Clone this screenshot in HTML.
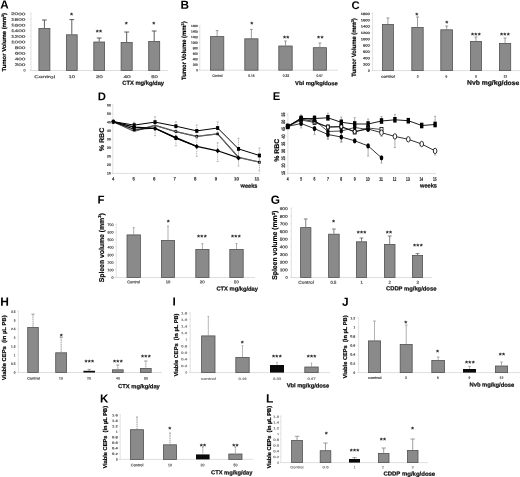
<!DOCTYPE html>
<html lang="en">
<head>
<meta charset="utf-8">
<title>Figure</title>
<style>
html,body{margin:0;padding:0;background:#fff;}
body{width:520px;height:477px;overflow:hidden;font-family:"Liberation Sans",Arial,sans-serif;}
svg{display:block;will-change:transform;}
</style>
</head>
<body>
<svg width="520" height="477" viewBox="0 0 520 477" font-family="'Liberation Sans', Arial, sans-serif" text-rendering="geometricPrecision">
<rect width="520" height="477" fill="#fff"/>
<line x1="31.00" y1="12.60" x2="31.00" y2="70.50" stroke="#d6d6d6" stroke-width="0.7"/>
<line x1="30.00" y1="70.50" x2="168.00" y2="70.50" stroke="#d6d6d6" stroke-width="0.8"/>
<line x1="29.80" y1="13.60" x2="31.00" y2="13.60" stroke="#d6d6d6" stroke-width="0.6"/>
<text transform="translate(25.50,15.18) rotate(0.4) scale(0.25)" font-size="14.80" text-anchor="end" stroke="#5a5a5a" stroke-width="0.88" fill="#5a5a5a" textLength="58.00" lengthAdjust="spacingAndGlyphs">2000</text>
<line x1="29.80" y1="19.24" x2="31.00" y2="19.24" stroke="#d6d6d6" stroke-width="0.6"/>
<text transform="translate(25.50,20.82) rotate(0.4) scale(0.25)" font-size="14.80" text-anchor="end" stroke="#5a5a5a" stroke-width="0.88" fill="#5a5a5a" textLength="58.00" lengthAdjust="spacingAndGlyphs">1800</text>
<line x1="29.80" y1="24.88" x2="31.00" y2="24.88" stroke="#d6d6d6" stroke-width="0.6"/>
<text transform="translate(25.50,26.46) rotate(0.4) scale(0.25)" font-size="14.80" text-anchor="end" stroke="#5a5a5a" stroke-width="0.88" fill="#5a5a5a" textLength="58.00" lengthAdjust="spacingAndGlyphs">1600</text>
<line x1="29.80" y1="30.52" x2="31.00" y2="30.52" stroke="#d6d6d6" stroke-width="0.6"/>
<text transform="translate(25.50,32.10) rotate(0.4) scale(0.25)" font-size="14.80" text-anchor="end" stroke="#5a5a5a" stroke-width="0.88" fill="#5a5a5a" textLength="58.00" lengthAdjust="spacingAndGlyphs">1400</text>
<line x1="29.80" y1="36.16" x2="31.00" y2="36.16" stroke="#d6d6d6" stroke-width="0.6"/>
<text transform="translate(25.50,37.74) rotate(0.4) scale(0.25)" font-size="14.80" text-anchor="end" stroke="#5a5a5a" stroke-width="0.88" fill="#5a5a5a" textLength="58.00" lengthAdjust="spacingAndGlyphs">1200</text>
<line x1="29.80" y1="41.80" x2="31.00" y2="41.80" stroke="#d6d6d6" stroke-width="0.6"/>
<text transform="translate(25.50,43.38) rotate(0.4) scale(0.25)" font-size="14.80" text-anchor="end" stroke="#5a5a5a" stroke-width="0.88" fill="#5a5a5a" textLength="58.00" lengthAdjust="spacingAndGlyphs">1000</text>
<line x1="29.80" y1="47.44" x2="31.00" y2="47.44" stroke="#d6d6d6" stroke-width="0.6"/>
<text transform="translate(25.50,49.02) rotate(0.4) scale(0.25)" font-size="14.80" text-anchor="end" stroke="#5a5a5a" stroke-width="0.88" fill="#5a5a5a" textLength="43.50" lengthAdjust="spacingAndGlyphs">800</text>
<line x1="29.80" y1="53.08" x2="31.00" y2="53.08" stroke="#d6d6d6" stroke-width="0.6"/>
<text transform="translate(25.50,54.66) rotate(0.4) scale(0.25)" font-size="14.80" text-anchor="end" stroke="#5a5a5a" stroke-width="0.88" fill="#5a5a5a" textLength="43.50" lengthAdjust="spacingAndGlyphs">600</text>
<line x1="29.80" y1="58.72" x2="31.00" y2="58.72" stroke="#d6d6d6" stroke-width="0.6"/>
<text transform="translate(25.50,60.30) rotate(0.4) scale(0.25)" font-size="14.80" text-anchor="end" stroke="#5a5a5a" stroke-width="0.88" fill="#5a5a5a" textLength="43.50" lengthAdjust="spacingAndGlyphs">400</text>
<line x1="29.80" y1="64.36" x2="31.00" y2="64.36" stroke="#d6d6d6" stroke-width="0.6"/>
<text transform="translate(25.50,65.94) rotate(0.4) scale(0.25)" font-size="14.80" text-anchor="end" stroke="#5a5a5a" stroke-width="0.88" fill="#5a5a5a" textLength="43.50" lengthAdjust="spacingAndGlyphs">200</text>
<line x1="29.80" y1="70.00" x2="31.00" y2="70.00" stroke="#d6d6d6" stroke-width="0.6"/>
<text transform="translate(25.50,71.58) rotate(0.4) scale(0.25)" font-size="14.80" text-anchor="end" stroke="#5a5a5a" stroke-width="0.88" fill="#5a5a5a">0</text>
<line x1="44.40" y1="20.00" x2="44.40" y2="28.00" stroke="#4c4c4c" stroke-width="0.9"/>
<line x1="42.00" y1="20.00" x2="46.80" y2="20.00" stroke="#4c4c4c" stroke-width="0.9"/>
<rect x="38.90" y="28.40" width="11.00" height="42.10" fill="#8a8a8a" stroke="#525252" stroke-width="0.8"/>
<line x1="71.80" y1="19.60" x2="71.80" y2="34.40" stroke="#4c4c4c" stroke-width="0.9"/>
<line x1="69.40" y1="19.60" x2="74.20" y2="19.60" stroke="#4c4c4c" stroke-width="0.9"/>
<rect x="66.40" y="34.80" width="10.80" height="35.70" fill="#8a8a8a" stroke="#525252" stroke-width="0.8"/>
<line x1="99.20" y1="38.00" x2="99.20" y2="41.60" stroke="#4c4c4c" stroke-width="0.9"/>
<line x1="96.80" y1="38.00" x2="101.60" y2="38.00" stroke="#4c4c4c" stroke-width="0.9"/>
<rect x="93.80" y="42.00" width="10.80" height="28.50" fill="#8a8a8a" stroke="#525252" stroke-width="0.8"/>
<line x1="126.65" y1="32.00" x2="126.65" y2="42.00" stroke="#4c4c4c" stroke-width="0.9"/>
<line x1="124.25" y1="32.00" x2="129.05" y2="32.00" stroke="#4c4c4c" stroke-width="0.9"/>
<rect x="121.10" y="42.40" width="11.10" height="28.10" fill="#8a8a8a" stroke="#525252" stroke-width="0.8"/>
<line x1="154.20" y1="31.00" x2="154.20" y2="41.00" stroke="#4c4c4c" stroke-width="0.9"/>
<line x1="151.80" y1="31.00" x2="156.60" y2="31.00" stroke="#4c4c4c" stroke-width="0.9"/>
<rect x="148.70" y="41.40" width="11.00" height="29.10" fill="#8a8a8a" stroke="#525252" stroke-width="0.8"/>
<text x="71.60" y="17.50" font-size="7.8" font-weight="bold" text-anchor="middle" fill="#111" letter-spacing="0.25">*</text>
<text x="99.00" y="35.30" font-size="7.8" font-weight="bold" text-anchor="middle" fill="#111" letter-spacing="0.25">**</text>
<text x="126.40" y="27.30" font-size="7.8" font-weight="bold" text-anchor="middle" fill="#111" letter-spacing="0.25">*</text>
<text x="154.00" y="27.30" font-size="7.8" font-weight="bold" text-anchor="middle" fill="#111" letter-spacing="0.25">*</text>
<text transform="translate(44.70,78.10) rotate(0.4) scale(0.25)" font-size="15.60" text-anchor="middle" stroke="#5a5a5a" stroke-width="0.88" fill="#5a5a5a" textLength="83.60" lengthAdjust="spacingAndGlyphs">Control</text>
<text transform="translate(71.80,78.10) rotate(0.4) scale(0.25)" font-size="15.60" text-anchor="middle" stroke="#5a5a5a" stroke-width="0.88" fill="#5a5a5a" textLength="26.40" lengthAdjust="spacingAndGlyphs">10</text>
<text transform="translate(99.30,78.10) rotate(0.4) scale(0.25)" font-size="15.60" text-anchor="middle" stroke="#5a5a5a" stroke-width="0.88" fill="#5a5a5a" textLength="28.00" lengthAdjust="spacingAndGlyphs">20</text>
<text transform="translate(127.10,78.10) rotate(0.4) scale(0.25)" font-size="15.60" text-anchor="middle" stroke="#5a5a5a" stroke-width="0.88" fill="#5a5a5a" textLength="29.20" lengthAdjust="spacingAndGlyphs">40</text>
<text transform="translate(154.50,78.10) rotate(0.4) scale(0.25)" font-size="15.60" text-anchor="middle" stroke="#5a5a5a" stroke-width="0.88" fill="#5a5a5a" textLength="26.40" lengthAdjust="spacingAndGlyphs">50</text>
<text transform="translate(122.20,84.69) rotate(0.4) scale(0.25)" font-size="23.20" text-anchor="start" font-weight="bold" stroke="#111" stroke-width="0.88" fill="#111" textLength="167.60" lengthAdjust="spacingAndGlyphs">CTX mg/kg/day</text>
<text transform="translate(0.15,8.40) rotate(0.4) scale(0.25)" font-size="46.71" font-weight="bold" fill="#000">A</text>
<text transform="translate(6.19,71.40) rotate(-90)" font-size="5.8" font-weight="bold" fill="#000" stroke="#000" stroke-width="0.18" textLength="58.50" lengthAdjust="spacingAndGlyphs">Tumor Volume (mm<tspan font-size="3.60" dy="-2.20">3</tspan><tspan dy="2.20">)</tspan></text>
<line x1="199.80" y1="24.80" x2="199.80" y2="70.20" stroke="#d6d6d6" stroke-width="0.7"/>
<line x1="198.80" y1="70.20" x2="338.00" y2="70.20" stroke="#d6d6d6" stroke-width="0.8"/>
<line x1="198.60" y1="25.80" x2="199.80" y2="25.80" stroke="#d6d6d6" stroke-width="0.6"/>
<text transform="translate(197.80,27.13) rotate(0.4) scale(0.25)" font-size="12.00" text-anchor="end" stroke="#555" stroke-width="0.88" fill="#555" textLength="27.60" lengthAdjust="spacingAndGlyphs">1600</text>
<line x1="198.60" y1="31.31" x2="199.80" y2="31.31" stroke="#d6d6d6" stroke-width="0.6"/>
<text transform="translate(197.80,32.64) rotate(0.4) scale(0.25)" font-size="12.00" text-anchor="end" stroke="#555" stroke-width="0.88" fill="#555" textLength="27.60" lengthAdjust="spacingAndGlyphs">1400</text>
<line x1="198.60" y1="36.83" x2="199.80" y2="36.83" stroke="#d6d6d6" stroke-width="0.6"/>
<text transform="translate(197.80,38.16) rotate(0.4) scale(0.25)" font-size="12.00" text-anchor="end" stroke="#555" stroke-width="0.88" fill="#555" textLength="27.60" lengthAdjust="spacingAndGlyphs">1200</text>
<line x1="198.60" y1="42.34" x2="199.80" y2="42.34" stroke="#d6d6d6" stroke-width="0.6"/>
<text transform="translate(197.80,43.67) rotate(0.4) scale(0.25)" font-size="12.00" text-anchor="end" stroke="#555" stroke-width="0.88" fill="#555" textLength="27.60" lengthAdjust="spacingAndGlyphs">1000</text>
<line x1="198.60" y1="47.85" x2="199.80" y2="47.85" stroke="#d6d6d6" stroke-width="0.6"/>
<text transform="translate(197.80,49.18) rotate(0.4) scale(0.25)" font-size="12.00" text-anchor="end" stroke="#555" stroke-width="0.88" fill="#555" textLength="20.70" lengthAdjust="spacingAndGlyphs">800</text>
<line x1="198.60" y1="53.36" x2="199.80" y2="53.36" stroke="#d6d6d6" stroke-width="0.6"/>
<text transform="translate(197.80,54.69) rotate(0.4) scale(0.25)" font-size="12.00" text-anchor="end" stroke="#555" stroke-width="0.88" fill="#555" textLength="20.70" lengthAdjust="spacingAndGlyphs">600</text>
<line x1="198.60" y1="58.88" x2="199.80" y2="58.88" stroke="#d6d6d6" stroke-width="0.6"/>
<text transform="translate(197.80,60.20) rotate(0.4) scale(0.25)" font-size="12.00" text-anchor="end" stroke="#555" stroke-width="0.88" fill="#555" textLength="20.70" lengthAdjust="spacingAndGlyphs">400</text>
<line x1="198.60" y1="64.39" x2="199.80" y2="64.39" stroke="#d6d6d6" stroke-width="0.6"/>
<text transform="translate(197.80,65.72) rotate(0.4) scale(0.25)" font-size="12.00" text-anchor="end" stroke="#555" stroke-width="0.88" fill="#555" textLength="20.70" lengthAdjust="spacingAndGlyphs">200</text>
<line x1="198.60" y1="69.90" x2="199.80" y2="69.90" stroke="#d6d6d6" stroke-width="0.6"/>
<text transform="translate(197.80,71.23) rotate(0.4) scale(0.25)" font-size="12.00" text-anchor="end" stroke="#555" stroke-width="0.88" fill="#555">0</text>
<line x1="217.15" y1="30.60" x2="217.15" y2="36.20" stroke="#6a6a6a" stroke-width="0.65"/>
<line x1="215.75" y1="30.60" x2="218.55" y2="30.60" stroke="#6a6a6a" stroke-width="0.65"/>
<rect x="210.50" y="36.60" width="13.30" height="33.60" fill="#8a8a8a" stroke="#525252" stroke-width="0.8"/>
<line x1="251.40" y1="29.40" x2="251.40" y2="38.40" stroke="#6a6a6a" stroke-width="0.65"/>
<line x1="250.00" y1="29.40" x2="252.80" y2="29.40" stroke="#6a6a6a" stroke-width="0.65"/>
<rect x="244.80" y="38.80" width="13.20" height="31.40" fill="#8a8a8a" stroke="#525252" stroke-width="0.8"/>
<line x1="285.50" y1="41.00" x2="285.50" y2="45.60" stroke="#6a6a6a" stroke-width="0.65"/>
<line x1="284.10" y1="41.00" x2="286.90" y2="41.00" stroke="#6a6a6a" stroke-width="0.65"/>
<rect x="278.80" y="46.00" width="13.40" height="24.20" fill="#8a8a8a" stroke="#525252" stroke-width="0.8"/>
<line x1="319.90" y1="43.00" x2="319.90" y2="47.30" stroke="#6a6a6a" stroke-width="0.65"/>
<line x1="318.50" y1="43.00" x2="321.30" y2="43.00" stroke="#6a6a6a" stroke-width="0.65"/>
<rect x="313.30" y="47.70" width="13.20" height="22.50" fill="#8a8a8a" stroke="#525252" stroke-width="0.8"/>
<text x="252.00" y="27.00" font-size="7.8" font-weight="bold" text-anchor="middle" fill="#111" letter-spacing="0.25">*</text>
<text x="286.20" y="41.10" font-size="7.8" font-weight="bold" text-anchor="middle" fill="#111" letter-spacing="0.25">**</text>
<text x="320.40" y="41.10" font-size="7.8" font-weight="bold" text-anchor="middle" fill="#111" letter-spacing="0.25">**</text>
<text transform="translate(217.40,76.79) rotate(0.4) scale(0.25)" font-size="13.20" text-anchor="middle" stroke="#555" stroke-width="0.88" fill="#555" textLength="41.20" lengthAdjust="spacingAndGlyphs">Control</text>
<text transform="translate(251.40,76.79) rotate(0.4) scale(0.25)" font-size="13.20" text-anchor="middle" stroke="#555" stroke-width="0.88" fill="#555" textLength="25.20" lengthAdjust="spacingAndGlyphs">0.16</text>
<text transform="translate(286.00,76.79) rotate(0.4) scale(0.25)" font-size="13.20" text-anchor="middle" stroke="#555" stroke-width="0.88" fill="#555" textLength="25.20" lengthAdjust="spacingAndGlyphs">0.33</text>
<text transform="translate(319.60,76.79) rotate(0.4) scale(0.25)" font-size="13.20" text-anchor="middle" stroke="#555" stroke-width="0.88" fill="#555" textLength="25.20" lengthAdjust="spacingAndGlyphs">0.67</text>
<text transform="translate(295.10,84.92) rotate(0.4) scale(0.25)" font-size="22.40" text-anchor="start" font-weight="bold" stroke="#111" stroke-width="0.88" fill="#111" textLength="170.80" lengthAdjust="spacingAndGlyphs">Vbl mg/kg/dose</text>
<text transform="translate(180.50,8.75) rotate(0.4) scale(0.25)" font-size="46.98" font-weight="bold" fill="#000">B</text>
<text transform="translate(186.13,80.00) rotate(-90)" font-size="6.2" font-weight="bold" fill="#000" stroke="#000" stroke-width="0.18" textLength="58.60" lengthAdjust="spacingAndGlyphs">Tumor Volume (mm<tspan font-size="3.84" dy="-2.36">3</tspan><tspan dy="2.36">)</tspan></text>
<line x1="372.60" y1="12.60" x2="372.60" y2="70.60" stroke="#d6d6d6" stroke-width="0.7"/>
<line x1="371.60" y1="70.60" x2="520.00" y2="70.60" stroke="#d6d6d6" stroke-width="0.8"/>
<line x1="371.40" y1="13.60" x2="372.60" y2="13.60" stroke="#d6d6d6" stroke-width="0.6"/>
<text transform="translate(369.80,15.00) rotate(0.4) scale(0.25)" font-size="12.80" text-anchor="end" stroke="#4a4a4a" stroke-width="0.88" fill="#4a4a4a" textLength="36.40" lengthAdjust="spacingAndGlyphs">1800</text>
<line x1="371.40" y1="19.91" x2="372.60" y2="19.91" stroke="#d6d6d6" stroke-width="0.6"/>
<text transform="translate(369.80,21.31) rotate(0.4) scale(0.25)" font-size="12.80" text-anchor="end" stroke="#4a4a4a" stroke-width="0.88" fill="#4a4a4a" textLength="36.40" lengthAdjust="spacingAndGlyphs">1600</text>
<line x1="371.40" y1="26.22" x2="372.60" y2="26.22" stroke="#d6d6d6" stroke-width="0.6"/>
<text transform="translate(369.80,27.62) rotate(0.4) scale(0.25)" font-size="12.80" text-anchor="end" stroke="#4a4a4a" stroke-width="0.88" fill="#4a4a4a" textLength="36.40" lengthAdjust="spacingAndGlyphs">1400</text>
<line x1="371.40" y1="32.53" x2="372.60" y2="32.53" stroke="#d6d6d6" stroke-width="0.6"/>
<text transform="translate(369.80,33.94) rotate(0.4) scale(0.25)" font-size="12.80" text-anchor="end" stroke="#4a4a4a" stroke-width="0.88" fill="#4a4a4a" textLength="36.40" lengthAdjust="spacingAndGlyphs">1200</text>
<line x1="371.40" y1="38.84" x2="372.60" y2="38.84" stroke="#d6d6d6" stroke-width="0.6"/>
<text transform="translate(369.80,40.25) rotate(0.4) scale(0.25)" font-size="12.80" text-anchor="end" stroke="#4a4a4a" stroke-width="0.88" fill="#4a4a4a" textLength="36.40" lengthAdjust="spacingAndGlyphs">1000</text>
<line x1="371.40" y1="45.16" x2="372.60" y2="45.16" stroke="#d6d6d6" stroke-width="0.6"/>
<text transform="translate(369.80,46.56) rotate(0.4) scale(0.25)" font-size="12.80" text-anchor="end" stroke="#4a4a4a" stroke-width="0.88" fill="#4a4a4a" textLength="27.30" lengthAdjust="spacingAndGlyphs">800</text>
<line x1="371.40" y1="51.47" x2="372.60" y2="51.47" stroke="#d6d6d6" stroke-width="0.6"/>
<text transform="translate(369.80,52.87) rotate(0.4) scale(0.25)" font-size="12.80" text-anchor="end" stroke="#4a4a4a" stroke-width="0.88" fill="#4a4a4a" textLength="27.30" lengthAdjust="spacingAndGlyphs">600</text>
<line x1="371.40" y1="57.78" x2="372.60" y2="57.78" stroke="#d6d6d6" stroke-width="0.6"/>
<text transform="translate(369.80,59.18) rotate(0.4) scale(0.25)" font-size="12.80" text-anchor="end" stroke="#4a4a4a" stroke-width="0.88" fill="#4a4a4a" textLength="27.30" lengthAdjust="spacingAndGlyphs">400</text>
<line x1="371.40" y1="64.09" x2="372.60" y2="64.09" stroke="#d6d6d6" stroke-width="0.6"/>
<text transform="translate(369.80,65.49) rotate(0.4) scale(0.25)" font-size="12.80" text-anchor="end" stroke="#4a4a4a" stroke-width="0.88" fill="#4a4a4a" textLength="27.30" lengthAdjust="spacingAndGlyphs">200</text>
<line x1="371.40" y1="70.40" x2="372.60" y2="70.40" stroke="#d6d6d6" stroke-width="0.6"/>
<text transform="translate(369.80,71.80) rotate(0.4) scale(0.25)" font-size="12.80" text-anchor="end" stroke="#4a4a4a" stroke-width="0.88" fill="#4a4a4a">0</text>
<line x1="387.90" y1="18.00" x2="387.90" y2="24.00" stroke="#6a6a6a" stroke-width="0.65"/>
<line x1="386.40" y1="18.00" x2="389.40" y2="18.00" stroke="#6a6a6a" stroke-width="0.65"/>
<rect x="382.40" y="24.40" width="11.00" height="46.20" fill="#8a8a8a" stroke="#525252" stroke-width="0.8"/>
<line x1="417.50" y1="17.00" x2="417.50" y2="27.00" stroke="#6a6a6a" stroke-width="0.65"/>
<line x1="416.00" y1="17.00" x2="419.00" y2="17.00" stroke="#6a6a6a" stroke-width="0.65"/>
<rect x="411.80" y="27.40" width="11.40" height="43.20" fill="#8a8a8a" stroke="#525252" stroke-width="0.8"/>
<line x1="446.70" y1="26.00" x2="446.70" y2="29.40" stroke="#6a6a6a" stroke-width="0.65"/>
<line x1="445.20" y1="26.00" x2="448.20" y2="26.00" stroke="#6a6a6a" stroke-width="0.65"/>
<rect x="440.80" y="29.80" width="11.80" height="40.80" fill="#8a8a8a" stroke="#525252" stroke-width="0.8"/>
<line x1="475.95" y1="37.00" x2="475.95" y2="41.00" stroke="#6a6a6a" stroke-width="0.65"/>
<line x1="474.45" y1="37.00" x2="477.45" y2="37.00" stroke="#6a6a6a" stroke-width="0.65"/>
<rect x="470.40" y="41.40" width="11.10" height="29.20" fill="#8a8a8a" stroke="#525252" stroke-width="0.8"/>
<line x1="505.05" y1="38.00" x2="505.05" y2="43.00" stroke="#6a6a6a" stroke-width="0.65"/>
<line x1="503.55" y1="38.00" x2="506.55" y2="38.00" stroke="#6a6a6a" stroke-width="0.65"/>
<rect x="499.40" y="43.40" width="11.30" height="27.20" fill="#8a8a8a" stroke="#525252" stroke-width="0.8"/>
<text x="417.00" y="17.90" font-size="7.8" font-weight="bold" text-anchor="middle" fill="#111" letter-spacing="0.25">*</text>
<text x="447.00" y="26.30" font-size="7.8" font-weight="bold" text-anchor="middle" fill="#111" letter-spacing="0.25">*</text>
<text x="476.00" y="37.50" font-size="7.8" font-weight="bold" text-anchor="middle" fill="#111" letter-spacing="0.25">***</text>
<text x="505.00" y="37.50" font-size="7.8" font-weight="bold" text-anchor="middle" fill="#111" letter-spacing="0.25">***</text>
<text transform="translate(388.00,77.45) rotate(0.4) scale(0.25)" font-size="12.80" text-anchor="middle" stroke="#4a4a4a" stroke-width="0.88" fill="#4a4a4a" textLength="54.40" lengthAdjust="spacingAndGlyphs">control</text>
<text transform="translate(417.60,77.45) rotate(0.4) scale(0.25)" font-size="12.80" text-anchor="middle" stroke="#4a4a4a" stroke-width="0.88" fill="#4a4a4a">3</text>
<text transform="translate(446.40,77.45) rotate(0.4) scale(0.25)" font-size="12.80" text-anchor="middle" stroke="#4a4a4a" stroke-width="0.88" fill="#4a4a4a">6</text>
<text transform="translate(476.00,77.45) rotate(0.4) scale(0.25)" font-size="12.80" text-anchor="middle" stroke="#4a4a4a" stroke-width="0.88" fill="#4a4a4a">9</text>
<text transform="translate(505.30,77.45) rotate(0.4) scale(0.25)" font-size="12.80" text-anchor="middle" stroke="#4a4a4a" stroke-width="0.88" fill="#4a4a4a" textLength="15.20" lengthAdjust="spacingAndGlyphs">12</text>
<text transform="translate(467.00,84.64) rotate(0.4) scale(0.25)" font-size="26.00" text-anchor="start" font-weight="bold" stroke="#111" stroke-width="0.88" fill="#111" textLength="208.80" lengthAdjust="spacingAndGlyphs">Nvb mg/kg/dose</text>
<text transform="translate(351.60,8.95) rotate(0.4) scale(0.25)" font-size="44.83" font-weight="bold" fill="#000">C</text>
<text transform="translate(356.43,76.70) rotate(-90)" font-size="6.2" font-weight="bold" fill="#000" stroke="#000" stroke-width="0.18" textLength="58.50" lengthAdjust="spacingAndGlyphs">Tumor Volume (mm<tspan font-size="3.84" dy="-2.36">3</tspan><tspan dy="2.36">)</tspan></text>
<line x1="116.30" y1="223.50" x2="116.30" y2="277.50" stroke="#d6d6d6" stroke-width="0.7"/>
<line x1="115.30" y1="277.50" x2="255.00" y2="277.50" stroke="#d6d6d6" stroke-width="0.8"/>
<line x1="115.10" y1="224.50" x2="116.30" y2="224.50" stroke="#d6d6d6" stroke-width="0.6"/>
<text transform="translate(113.50,226.01) rotate(0.4) scale(0.25)" font-size="14.00" text-anchor="end" stroke="#555" stroke-width="0.88" fill="#555" textLength="24.40" lengthAdjust="spacingAndGlyphs">700</text>
<line x1="115.10" y1="232.04" x2="116.30" y2="232.04" stroke="#d6d6d6" stroke-width="0.6"/>
<text transform="translate(113.50,233.55) rotate(0.4) scale(0.25)" font-size="14.00" text-anchor="end" stroke="#555" stroke-width="0.88" fill="#555" textLength="24.40" lengthAdjust="spacingAndGlyphs">600</text>
<line x1="115.10" y1="239.59" x2="116.30" y2="239.59" stroke="#d6d6d6" stroke-width="0.6"/>
<text transform="translate(113.50,241.10) rotate(0.4) scale(0.25)" font-size="14.00" text-anchor="end" stroke="#555" stroke-width="0.88" fill="#555" textLength="24.40" lengthAdjust="spacingAndGlyphs">500</text>
<line x1="115.10" y1="247.13" x2="116.30" y2="247.13" stroke="#d6d6d6" stroke-width="0.6"/>
<text transform="translate(113.50,248.64) rotate(0.4) scale(0.25)" font-size="14.00" text-anchor="end" stroke="#555" stroke-width="0.88" fill="#555" textLength="24.40" lengthAdjust="spacingAndGlyphs">400</text>
<line x1="115.10" y1="254.67" x2="116.30" y2="254.67" stroke="#d6d6d6" stroke-width="0.6"/>
<text transform="translate(113.50,256.18) rotate(0.4) scale(0.25)" font-size="14.00" text-anchor="end" stroke="#555" stroke-width="0.88" fill="#555" textLength="24.40" lengthAdjust="spacingAndGlyphs">300</text>
<line x1="115.10" y1="262.21" x2="116.30" y2="262.21" stroke="#d6d6d6" stroke-width="0.6"/>
<text transform="translate(113.50,263.72) rotate(0.4) scale(0.25)" font-size="14.00" text-anchor="end" stroke="#555" stroke-width="0.88" fill="#555" textLength="24.40" lengthAdjust="spacingAndGlyphs">200</text>
<line x1="115.10" y1="269.76" x2="116.30" y2="269.76" stroke="#d6d6d6" stroke-width="0.6"/>
<text transform="translate(113.50,271.27) rotate(0.4) scale(0.25)" font-size="14.00" text-anchor="end" stroke="#555" stroke-width="0.88" fill="#555" textLength="24.40" lengthAdjust="spacingAndGlyphs">100</text>
<line x1="115.10" y1="277.30" x2="116.30" y2="277.30" stroke="#d6d6d6" stroke-width="0.6"/>
<text transform="translate(113.50,278.81) rotate(0.4) scale(0.25)" font-size="14.00" text-anchor="end" stroke="#555" stroke-width="0.88" fill="#555">0</text>
<line x1="133.70" y1="227.60" x2="133.70" y2="234.50" stroke="#787878" stroke-width="0.6"/>
<line x1="132.70" y1="227.60" x2="134.70" y2="227.60" stroke="#787878" stroke-width="0.6"/>
<rect x="127.00" y="234.90" width="13.40" height="42.60" fill="#8a8a8a" stroke="#525252" stroke-width="0.8"/>
<line x1="168.00" y1="226.00" x2="168.00" y2="240.00" stroke="#787878" stroke-width="0.6"/>
<line x1="167.00" y1="226.00" x2="169.00" y2="226.00" stroke="#787878" stroke-width="0.6"/>
<rect x="161.40" y="240.40" width="13.20" height="37.10" fill="#8a8a8a" stroke="#525252" stroke-width="0.8"/>
<line x1="202.40" y1="243.60" x2="202.40" y2="249.00" stroke="#787878" stroke-width="0.6"/>
<line x1="201.40" y1="243.60" x2="203.40" y2="243.60" stroke="#787878" stroke-width="0.6"/>
<rect x="195.80" y="249.40" width="13.20" height="28.10" fill="#8a8a8a" stroke="#525252" stroke-width="0.8"/>
<line x1="236.50" y1="243.60" x2="236.50" y2="249.00" stroke="#787878" stroke-width="0.6"/>
<line x1="235.50" y1="243.60" x2="237.50" y2="243.60" stroke="#787878" stroke-width="0.6"/>
<rect x="229.80" y="249.40" width="13.40" height="28.10" fill="#8a8a8a" stroke="#525252" stroke-width="0.8"/>
<text x="168.40" y="224.90" font-size="7.8" font-weight="bold" text-anchor="middle" fill="#111" letter-spacing="0.25">*</text>
<text x="202.00" y="240.30" font-size="7.8" font-weight="bold" text-anchor="middle" fill="#111" letter-spacing="0.25">***</text>
<text x="236.00" y="240.30" font-size="7.8" font-weight="bold" text-anchor="middle" fill="#111" letter-spacing="0.25">***</text>
<text transform="translate(133.60,283.30) rotate(0.4) scale(0.25)" font-size="15.60" text-anchor="middle" stroke="#555" stroke-width="0.88" fill="#555" textLength="51.20" lengthAdjust="spacingAndGlyphs">Control</text>
<text transform="translate(168.00,283.30) rotate(0.4) scale(0.25)" font-size="15.60" text-anchor="middle" stroke="#555" stroke-width="0.88" fill="#555" textLength="18.40" lengthAdjust="spacingAndGlyphs">10</text>
<text transform="translate(202.20,283.30) rotate(0.4) scale(0.25)" font-size="15.60" text-anchor="middle" stroke="#555" stroke-width="0.88" fill="#555" textLength="18.80" lengthAdjust="spacingAndGlyphs">20</text>
<text transform="translate(236.40,283.30) rotate(0.4) scale(0.25)" font-size="15.60" text-anchor="middle" stroke="#555" stroke-width="0.88" fill="#555" textLength="18.80" lengthAdjust="spacingAndGlyphs">50</text>
<text transform="translate(216.40,290.49) rotate(0.4) scale(0.25)" font-size="23.20" text-anchor="start" font-weight="bold" stroke="#111" stroke-width="0.88" fill="#111" textLength="166.40" lengthAdjust="spacingAndGlyphs">CTX mg/kg/day</text>
<text transform="translate(97.60,203.60) rotate(0.4) scale(0.25)" font-size="45.64" font-weight="bold" fill="#000">F</text>
<text transform="translate(104.12,282.30) rotate(-90)" font-size="7.0" font-weight="bold" fill="#000" stroke="#000" stroke-width="0.18" textLength="69.10" lengthAdjust="spacingAndGlyphs">Spleen volume (mm<tspan font-size="4.34" dy="-2.66">3</tspan><tspan dy="2.66">)</tspan></text>
<line x1="291.40" y1="207.40" x2="291.40" y2="277.50" stroke="#d6d6d6" stroke-width="0.7"/>
<line x1="290.40" y1="277.50" x2="432.00" y2="277.50" stroke="#d6d6d6" stroke-width="0.8"/>
<line x1="290.20" y1="208.40" x2="291.40" y2="208.40" stroke="#d6d6d6" stroke-width="0.6"/>
<text transform="translate(287.70,210.05) rotate(0.4) scale(0.25)" font-size="15.60" text-anchor="end" stroke="#505050" stroke-width="0.88" fill="#505050" textLength="32.00" lengthAdjust="spacingAndGlyphs">900</text>
<line x1="290.20" y1="216.04" x2="291.40" y2="216.04" stroke="#d6d6d6" stroke-width="0.6"/>
<text transform="translate(287.70,217.70) rotate(0.4) scale(0.25)" font-size="15.60" text-anchor="end" stroke="#505050" stroke-width="0.88" fill="#505050" textLength="32.00" lengthAdjust="spacingAndGlyphs">800</text>
<line x1="290.20" y1="223.69" x2="291.40" y2="223.69" stroke="#d6d6d6" stroke-width="0.6"/>
<text transform="translate(287.70,225.34) rotate(0.4) scale(0.25)" font-size="15.60" text-anchor="end" stroke="#505050" stroke-width="0.88" fill="#505050" textLength="32.00" lengthAdjust="spacingAndGlyphs">700</text>
<line x1="290.20" y1="231.33" x2="291.40" y2="231.33" stroke="#d6d6d6" stroke-width="0.6"/>
<text transform="translate(287.70,232.99) rotate(0.4) scale(0.25)" font-size="15.60" text-anchor="end" stroke="#505050" stroke-width="0.88" fill="#505050" textLength="32.00" lengthAdjust="spacingAndGlyphs">600</text>
<line x1="290.20" y1="238.98" x2="291.40" y2="238.98" stroke="#d6d6d6" stroke-width="0.6"/>
<text transform="translate(287.70,240.63) rotate(0.4) scale(0.25)" font-size="15.60" text-anchor="end" stroke="#505050" stroke-width="0.88" fill="#505050" textLength="32.00" lengthAdjust="spacingAndGlyphs">500</text>
<line x1="290.20" y1="246.62" x2="291.40" y2="246.62" stroke="#d6d6d6" stroke-width="0.6"/>
<text transform="translate(287.70,248.28) rotate(0.4) scale(0.25)" font-size="15.60" text-anchor="end" stroke="#505050" stroke-width="0.88" fill="#505050" textLength="32.00" lengthAdjust="spacingAndGlyphs">400</text>
<line x1="290.20" y1="254.27" x2="291.40" y2="254.27" stroke="#d6d6d6" stroke-width="0.6"/>
<text transform="translate(287.70,255.92) rotate(0.4) scale(0.25)" font-size="15.60" text-anchor="end" stroke="#505050" stroke-width="0.88" fill="#505050" textLength="32.00" lengthAdjust="spacingAndGlyphs">300</text>
<line x1="290.20" y1="261.91" x2="291.40" y2="261.91" stroke="#d6d6d6" stroke-width="0.6"/>
<text transform="translate(287.70,263.57) rotate(0.4) scale(0.25)" font-size="15.60" text-anchor="end" stroke="#505050" stroke-width="0.88" fill="#505050" textLength="32.00" lengthAdjust="spacingAndGlyphs">200</text>
<line x1="290.20" y1="269.56" x2="291.40" y2="269.56" stroke="#d6d6d6" stroke-width="0.6"/>
<text transform="translate(287.70,271.21) rotate(0.4) scale(0.25)" font-size="15.60" text-anchor="end" stroke="#505050" stroke-width="0.88" fill="#505050" textLength="32.00" lengthAdjust="spacingAndGlyphs">100</text>
<line x1="290.20" y1="277.20" x2="291.40" y2="277.20" stroke="#d6d6d6" stroke-width="0.6"/>
<text transform="translate(287.70,278.85) rotate(0.4) scale(0.25)" font-size="15.60" text-anchor="end" stroke="#505050" stroke-width="0.88" fill="#505050">0</text>
<line x1="305.75" y1="219.00" x2="305.75" y2="227.20" stroke="#5a5a5a" stroke-width="0.75"/>
<line x1="303.85" y1="219.00" x2="307.65" y2="219.00" stroke="#5a5a5a" stroke-width="0.75"/>
<rect x="300.60" y="227.60" width="10.30" height="49.90" fill="#8a8a8a" stroke="#525252" stroke-width="0.8"/>
<line x1="333.90" y1="229.00" x2="333.90" y2="233.80" stroke="#5a5a5a" stroke-width="0.75"/>
<line x1="332.00" y1="229.00" x2="335.80" y2="229.00" stroke="#5a5a5a" stroke-width="0.75"/>
<rect x="328.60" y="234.20" width="10.60" height="43.30" fill="#8a8a8a" stroke="#525252" stroke-width="0.8"/>
<line x1="361.50" y1="238.00" x2="361.50" y2="241.40" stroke="#5a5a5a" stroke-width="0.75"/>
<line x1="359.60" y1="238.00" x2="363.40" y2="238.00" stroke="#5a5a5a" stroke-width="0.75"/>
<rect x="356.40" y="241.80" width="10.20" height="35.70" fill="#8a8a8a" stroke="#525252" stroke-width="0.8"/>
<line x1="389.70" y1="236.00" x2="389.70" y2="244.00" stroke="#5a5a5a" stroke-width="0.75"/>
<line x1="387.80" y1="236.00" x2="391.60" y2="236.00" stroke="#5a5a5a" stroke-width="0.75"/>
<rect x="384.40" y="244.40" width="10.60" height="33.10" fill="#8a8a8a" stroke="#525252" stroke-width="0.8"/>
<line x1="417.50" y1="253.60" x2="417.50" y2="255.00" stroke="#5a5a5a" stroke-width="0.75"/>
<line x1="415.60" y1="253.60" x2="419.40" y2="253.60" stroke="#5a5a5a" stroke-width="0.75"/>
<rect x="412.40" y="255.40" width="10.20" height="22.10" fill="#8a8a8a" stroke="#525252" stroke-width="0.8"/>
<text x="333.60" y="225.30" font-size="7.8" font-weight="bold" text-anchor="middle" fill="#111" letter-spacing="0.25">*</text>
<text x="361.60" y="235.90" font-size="7.8" font-weight="bold" text-anchor="middle" fill="#111" letter-spacing="0.25">***</text>
<text x="389.00" y="235.90" font-size="7.8" font-weight="bold" text-anchor="middle" fill="#111" letter-spacing="0.25">**</text>
<text x="418.00" y="248.90" font-size="7.8" font-weight="bold" text-anchor="middle" fill="#111" letter-spacing="0.25">***</text>
<text transform="translate(306.00,283.71) rotate(0.4) scale(0.25)" font-size="16.80" text-anchor="middle" stroke="#505050" stroke-width="0.88" fill="#505050" textLength="62.00" lengthAdjust="spacingAndGlyphs">Control</text>
<text transform="translate(333.40,283.71) rotate(0.4) scale(0.25)" font-size="16.80" text-anchor="middle" stroke="#505050" stroke-width="0.88" fill="#505050" textLength="23.20" lengthAdjust="spacingAndGlyphs">0.5</text>
<text transform="translate(361.60,283.71) rotate(0.4) scale(0.25)" font-size="16.80" text-anchor="middle" stroke="#505050" stroke-width="0.88" fill="#505050">1</text>
<text transform="translate(389.60,283.71) rotate(0.4) scale(0.25)" font-size="16.80" text-anchor="middle" stroke="#505050" stroke-width="0.88" fill="#505050">2</text>
<text transform="translate(417.60,283.71) rotate(0.4) scale(0.25)" font-size="16.80" text-anchor="middle" stroke="#505050" stroke-width="0.88" fill="#505050">3</text>
<text transform="translate(386.00,290.29) rotate(0.4) scale(0.25)" font-size="23.20" text-anchor="start" font-weight="bold" stroke="#111" stroke-width="0.88" fill="#111" textLength="201.60" lengthAdjust="spacingAndGlyphs">CDDP mg/kg/dose</text>
<text transform="translate(270.80,203.70) rotate(0.4) scale(0.25)" font-size="47.25" font-weight="bold" fill="#000">G</text>
<text transform="translate(277.42,279.80) rotate(-90)" font-size="7.0" font-weight="bold" fill="#000" stroke="#000" stroke-width="0.18" textLength="69.10" lengthAdjust="spacingAndGlyphs">Spleen volume (mm<tspan font-size="4.34" dy="-2.66">3</tspan><tspan dy="2.66">)</tspan></text>
<line x1="18.40" y1="310.40" x2="18.40" y2="372.50" stroke="#d6d6d6" stroke-width="0.7"/>
<line x1="17.40" y1="372.50" x2="162.00" y2="372.50" stroke="#d6d6d6" stroke-width="0.8"/>
<line x1="17.20" y1="311.40" x2="18.40" y2="311.40" stroke="#d6d6d6" stroke-width="0.6"/>
<text transform="translate(15.40,312.73) rotate(0.4) scale(0.25)" font-size="12.00" text-anchor="end" stroke="#606060" stroke-width="0.88" fill="#606060" textLength="17.60" lengthAdjust="spacingAndGlyphs">3.5</text>
<line x1="17.20" y1="320.09" x2="18.40" y2="320.09" stroke="#d6d6d6" stroke-width="0.6"/>
<text transform="translate(15.40,321.42) rotate(0.4) scale(0.25)" font-size="12.00" text-anchor="end" stroke="#606060" stroke-width="0.88" fill="#606060">3</text>
<line x1="17.20" y1="328.77" x2="18.40" y2="328.77" stroke="#d6d6d6" stroke-width="0.6"/>
<text transform="translate(15.40,330.10) rotate(0.4) scale(0.25)" font-size="12.00" text-anchor="end" stroke="#606060" stroke-width="0.88" fill="#606060" textLength="17.60" lengthAdjust="spacingAndGlyphs">2.5</text>
<line x1="17.20" y1="337.46" x2="18.40" y2="337.46" stroke="#d6d6d6" stroke-width="0.6"/>
<text transform="translate(15.40,338.79) rotate(0.4) scale(0.25)" font-size="12.00" text-anchor="end" stroke="#606060" stroke-width="0.88" fill="#606060">2</text>
<line x1="17.20" y1="346.14" x2="18.40" y2="346.14" stroke="#d6d6d6" stroke-width="0.6"/>
<text transform="translate(15.40,347.47) rotate(0.4) scale(0.25)" font-size="12.00" text-anchor="end" stroke="#606060" stroke-width="0.88" fill="#606060" textLength="17.60" lengthAdjust="spacingAndGlyphs">1.5</text>
<line x1="17.20" y1="354.83" x2="18.40" y2="354.83" stroke="#d6d6d6" stroke-width="0.6"/>
<text transform="translate(15.40,356.16) rotate(0.4) scale(0.25)" font-size="12.00" text-anchor="end" stroke="#606060" stroke-width="0.88" fill="#606060">1</text>
<line x1="17.20" y1="363.51" x2="18.40" y2="363.51" stroke="#d6d6d6" stroke-width="0.6"/>
<text transform="translate(15.40,364.84) rotate(0.4) scale(0.25)" font-size="12.00" text-anchor="end" stroke="#606060" stroke-width="0.88" fill="#606060" textLength="17.60" lengthAdjust="spacingAndGlyphs">0.5</text>
<line x1="17.20" y1="372.20" x2="18.40" y2="372.20" stroke="#d6d6d6" stroke-width="0.6"/>
<text transform="translate(15.40,373.53) rotate(0.4) scale(0.25)" font-size="12.00" text-anchor="end" stroke="#606060" stroke-width="0.88" fill="#606060">0</text>
<line x1="33.00" y1="314.20" x2="33.00" y2="327.00" stroke="#888" stroke-width="0.8" stroke-dasharray="1.6 0.6"/>
<line x1="31.40" y1="314.20" x2="34.60" y2="314.20" stroke="#888" stroke-width="0.8"/>
<rect x="27.70" y="327.40" width="10.60" height="45.10" fill="#8a8a8a" stroke="#525252" stroke-width="0.8"/>
<line x1="61.15" y1="337.20" x2="61.15" y2="352.40" stroke="#888" stroke-width="0.8" stroke-dasharray="1.6 0.6"/>
<line x1="59.55" y1="337.20" x2="62.75" y2="337.20" stroke="#888" stroke-width="0.8"/>
<rect x="55.70" y="352.80" width="10.90" height="19.70" fill="#8a8a8a" stroke="#525252" stroke-width="0.8"/>
<line x1="89.20" y1="369.40" x2="89.20" y2="370.80" stroke="#888" stroke-width="0.8" stroke-dasharray="1.6 0.6"/>
<line x1="87.60" y1="369.40" x2="90.80" y2="369.40" stroke="#888" stroke-width="0.8"/>
<rect x="83.40" y="370.80" width="11.60" height="1.70" fill="#0a0a0a"/>
<line x1="117.80" y1="365.00" x2="117.80" y2="369.40" stroke="#888" stroke-width="0.8" stroke-dasharray="1.6 0.6"/>
<line x1="116.20" y1="365.00" x2="119.40" y2="365.00" stroke="#888" stroke-width="0.8"/>
<rect x="112.40" y="369.80" width="10.80" height="2.70" fill="#8a8a8a" stroke="#525252" stroke-width="0.8"/>
<line x1="145.80" y1="361.00" x2="145.80" y2="368.00" stroke="#888" stroke-width="0.8" stroke-dasharray="1.6 0.6"/>
<line x1="144.20" y1="361.00" x2="147.40" y2="361.00" stroke="#888" stroke-width="0.8"/>
<rect x="140.40" y="368.40" width="10.80" height="4.10" fill="#8a8a8a" stroke="#525252" stroke-width="0.8"/>
<text x="61.30" y="338.70" font-size="7.8" font-weight="bold" text-anchor="middle" fill="#111" letter-spacing="0.25">*</text>
<text x="89.40" y="365.30" font-size="7.8" font-weight="bold" text-anchor="middle" fill="#111" letter-spacing="0.25">***</text>
<text x="118.00" y="365.30" font-size="7.8" font-weight="bold" text-anchor="middle" fill="#111" letter-spacing="0.25">***</text>
<text x="146.00" y="359.90" font-size="7.8" font-weight="bold" text-anchor="middle" fill="#111" letter-spacing="0.25">***</text>
<text transform="translate(33.40,379.52) rotate(0.4) scale(0.25)" font-size="13.60" text-anchor="middle" stroke="#606060" stroke-width="0.88" fill="#606060" textLength="52.00" lengthAdjust="spacingAndGlyphs">Control</text>
<text transform="translate(61.00,379.52) rotate(0.4) scale(0.25)" font-size="13.60" text-anchor="middle" stroke="#606060" stroke-width="0.88" fill="#606060" textLength="15.20" lengthAdjust="spacingAndGlyphs">10</text>
<text transform="translate(89.00,379.52) rotate(0.4) scale(0.25)" font-size="13.60" text-anchor="middle" stroke="#606060" stroke-width="0.88" fill="#606060" textLength="15.20" lengthAdjust="spacingAndGlyphs">20</text>
<text transform="translate(118.00,379.52) rotate(0.4) scale(0.25)" font-size="13.60" text-anchor="middle" stroke="#606060" stroke-width="0.88" fill="#606060" textLength="15.20" lengthAdjust="spacingAndGlyphs">40</text>
<text transform="translate(146.00,379.52) rotate(0.4) scale(0.25)" font-size="13.60" text-anchor="middle" stroke="#606060" stroke-width="0.88" fill="#606060" textLength="15.20" lengthAdjust="spacingAndGlyphs">50</text>
<text transform="translate(118.10,388.09) rotate(0.4) scale(0.25)" font-size="23.20" text-anchor="start" font-weight="bold" stroke="#111" stroke-width="0.88" fill="#111" textLength="166.80" lengthAdjust="spacingAndGlyphs">CTX mg/kg/day</text>
<text transform="translate(0.20,305.80) rotate(0.4) scale(0.25)" font-size="47.79" font-weight="bold" fill="#000">H</text>
<text transform="translate(6.25,380.30) rotate(-90)" font-size="5.7" font-weight="bold" fill="#000" stroke="#000" stroke-width="0.18" textLength="64.90" lengthAdjust="spacingAndGlyphs">Viable CEPs  (in µL PB)</text>
<line x1="190.20" y1="311.90" x2="190.20" y2="372.60" stroke="#d6d6d6" stroke-width="0.7"/>
<line x1="189.20" y1="372.60" x2="330.00" y2="372.60" stroke="#d6d6d6" stroke-width="0.8"/>
<line x1="189.00" y1="312.90" x2="190.20" y2="312.90" stroke="#d6d6d6" stroke-width="0.6"/>
<text transform="translate(187.20,314.23) rotate(0.4) scale(0.25)" font-size="12.00" text-anchor="end" stroke="#8c8c8c" stroke-width="0.88" fill="#8c8c8c" textLength="25.20" lengthAdjust="spacingAndGlyphs">1.8</text>
<line x1="189.00" y1="319.49" x2="190.20" y2="319.49" stroke="#d6d6d6" stroke-width="0.6"/>
<text transform="translate(187.20,320.82) rotate(0.4) scale(0.25)" font-size="12.00" text-anchor="end" stroke="#8c8c8c" stroke-width="0.88" fill="#8c8c8c" textLength="25.20" lengthAdjust="spacingAndGlyphs">1.6</text>
<line x1="189.00" y1="326.08" x2="190.20" y2="326.08" stroke="#d6d6d6" stroke-width="0.6"/>
<text transform="translate(187.20,327.41) rotate(0.4) scale(0.25)" font-size="12.00" text-anchor="end" stroke="#8c8c8c" stroke-width="0.88" fill="#8c8c8c" textLength="25.20" lengthAdjust="spacingAndGlyphs">1.4</text>
<line x1="189.00" y1="332.67" x2="190.20" y2="332.67" stroke="#d6d6d6" stroke-width="0.6"/>
<text transform="translate(187.20,334.00) rotate(0.4) scale(0.25)" font-size="12.00" text-anchor="end" stroke="#8c8c8c" stroke-width="0.88" fill="#8c8c8c" textLength="25.20" lengthAdjust="spacingAndGlyphs">1.2</text>
<line x1="189.00" y1="339.26" x2="190.20" y2="339.26" stroke="#d6d6d6" stroke-width="0.6"/>
<text transform="translate(187.20,340.59) rotate(0.4) scale(0.25)" font-size="12.00" text-anchor="end" stroke="#8c8c8c" stroke-width="0.88" fill="#8c8c8c">1</text>
<line x1="189.00" y1="345.84" x2="190.20" y2="345.84" stroke="#d6d6d6" stroke-width="0.6"/>
<text transform="translate(187.20,347.17) rotate(0.4) scale(0.25)" font-size="12.00" text-anchor="end" stroke="#8c8c8c" stroke-width="0.88" fill="#8c8c8c" textLength="25.20" lengthAdjust="spacingAndGlyphs">0.8</text>
<line x1="189.00" y1="352.43" x2="190.20" y2="352.43" stroke="#d6d6d6" stroke-width="0.6"/>
<text transform="translate(187.20,353.76) rotate(0.4) scale(0.25)" font-size="12.00" text-anchor="end" stroke="#8c8c8c" stroke-width="0.88" fill="#8c8c8c" textLength="25.20" lengthAdjust="spacingAndGlyphs">0.6</text>
<line x1="189.00" y1="359.02" x2="190.20" y2="359.02" stroke="#d6d6d6" stroke-width="0.6"/>
<text transform="translate(187.20,360.35) rotate(0.4) scale(0.25)" font-size="12.00" text-anchor="end" stroke="#8c8c8c" stroke-width="0.88" fill="#8c8c8c" textLength="25.20" lengthAdjust="spacingAndGlyphs">0.4</text>
<line x1="189.00" y1="365.61" x2="190.20" y2="365.61" stroke="#d6d6d6" stroke-width="0.6"/>
<text transform="translate(187.20,366.94) rotate(0.4) scale(0.25)" font-size="12.00" text-anchor="end" stroke="#8c8c8c" stroke-width="0.88" fill="#8c8c8c" textLength="25.20" lengthAdjust="spacingAndGlyphs">0.2</text>
<line x1="189.00" y1="372.20" x2="190.20" y2="372.20" stroke="#d6d6d6" stroke-width="0.6"/>
<text transform="translate(187.20,373.53) rotate(0.4) scale(0.25)" font-size="12.00" text-anchor="end" stroke="#8c8c8c" stroke-width="0.88" fill="#8c8c8c">0</text>
<line x1="208.30" y1="316.40" x2="208.30" y2="335.50" stroke="#888" stroke-width="0.6"/>
<line x1="207.50" y1="316.40" x2="209.10" y2="316.40" stroke="#888" stroke-width="0.6"/>
<rect x="201.60" y="335.90" width="13.40" height="36.70" fill="#8a8a8a" stroke="#525252" stroke-width="0.8"/>
<line x1="242.50" y1="345.60" x2="242.50" y2="357.00" stroke="#888" stroke-width="0.6"/>
<line x1="241.70" y1="345.60" x2="243.30" y2="345.60" stroke="#888" stroke-width="0.6"/>
<rect x="235.80" y="357.40" width="13.40" height="15.20" fill="#8a8a8a" stroke="#525252" stroke-width="0.8"/>
<line x1="277.00" y1="362.40" x2="277.00" y2="365.00" stroke="#888" stroke-width="0.6"/>
<line x1="276.20" y1="362.40" x2="277.80" y2="362.40" stroke="#888" stroke-width="0.6"/>
<rect x="270.00" y="365.00" width="14.00" height="7.60" fill="#0a0a0a"/>
<line x1="311.50" y1="363.00" x2="311.50" y2="366.60" stroke="#888" stroke-width="0.6"/>
<line x1="310.70" y1="363.00" x2="312.30" y2="363.00" stroke="#888" stroke-width="0.6"/>
<rect x="304.80" y="367.00" width="13.40" height="5.60" fill="#8a8a8a" stroke="#525252" stroke-width="0.8"/>
<text x="242.40" y="345.90" font-size="7.8" font-weight="bold" text-anchor="middle" fill="#111" letter-spacing="0.25">*</text>
<text x="277.00" y="359.90" font-size="7.8" font-weight="bold" text-anchor="middle" fill="#111" letter-spacing="0.25">***</text>
<text x="311.60" y="359.90" font-size="7.8" font-weight="bold" text-anchor="middle" fill="#111" letter-spacing="0.25">***</text>
<text transform="translate(208.40,379.68) rotate(0.4) scale(0.25)" font-size="12.00" text-anchor="middle" stroke="#8c8c8c" stroke-width="0.88" fill="#8c8c8c" textLength="60.00" lengthAdjust="spacingAndGlyphs">control</text>
<text transform="translate(242.60,379.68) rotate(0.4) scale(0.25)" font-size="12.00" text-anchor="middle" stroke="#8c8c8c" stroke-width="0.88" fill="#8c8c8c" textLength="32.00" lengthAdjust="spacingAndGlyphs">0.16</text>
<text transform="translate(277.00,379.68) rotate(0.4) scale(0.25)" font-size="12.00" text-anchor="middle" stroke="#8c8c8c" stroke-width="0.88" fill="#8c8c8c" textLength="32.00" lengthAdjust="spacingAndGlyphs">0.33</text>
<text transform="translate(311.50,379.68) rotate(0.4) scale(0.25)" font-size="12.00" text-anchor="middle" stroke="#8c8c8c" stroke-width="0.88" fill="#8c8c8c" textLength="32.00" lengthAdjust="spacingAndGlyphs">0.67</text>
<text transform="translate(286.70,387.25) rotate(0.4) scale(0.25)" font-size="22.80" text-anchor="start" font-weight="bold" stroke="#111" stroke-width="0.88" fill="#111" textLength="170.00" lengthAdjust="spacingAndGlyphs">Vbl mg/kg/dose</text>
<text transform="translate(172.50,305.60) rotate(0.4) scale(0.25)" font-size="46.71" font-weight="bold" fill="#000">I</text>
<text transform="translate(178.25,376.60) rotate(-90)" font-size="5.7" font-weight="bold" fill="#000" stroke="#000" stroke-width="0.18" textLength="63.10" lengthAdjust="spacingAndGlyphs">Viable CEPs  (in µL PB)</text>
<line x1="358.60" y1="316.90" x2="358.60" y2="372.60" stroke="#d6d6d6" stroke-width="0.7"/>
<line x1="357.60" y1="372.60" x2="520.00" y2="372.60" stroke="#d6d6d6" stroke-width="0.8"/>
<line x1="357.40" y1="317.90" x2="358.60" y2="317.90" stroke="#d6d6d6" stroke-width="0.6"/>
<text transform="translate(355.20,319.23) rotate(0.4) scale(0.25)" font-size="12.00" text-anchor="end" stroke="#555" stroke-width="0.88" fill="#555" textLength="20.00" lengthAdjust="spacingAndGlyphs">1.2</text>
<line x1="357.40" y1="326.98" x2="358.60" y2="326.98" stroke="#d6d6d6" stroke-width="0.6"/>
<text transform="translate(355.20,328.31) rotate(0.4) scale(0.25)" font-size="12.00" text-anchor="end" stroke="#555" stroke-width="0.88" fill="#555">1</text>
<line x1="357.40" y1="336.07" x2="358.60" y2="336.07" stroke="#d6d6d6" stroke-width="0.6"/>
<text transform="translate(355.20,337.40) rotate(0.4) scale(0.25)" font-size="12.00" text-anchor="end" stroke="#555" stroke-width="0.88" fill="#555" textLength="20.00" lengthAdjust="spacingAndGlyphs">0.8</text>
<line x1="357.40" y1="345.15" x2="358.60" y2="345.15" stroke="#d6d6d6" stroke-width="0.6"/>
<text transform="translate(355.20,346.48) rotate(0.4) scale(0.25)" font-size="12.00" text-anchor="end" stroke="#555" stroke-width="0.88" fill="#555" textLength="20.00" lengthAdjust="spacingAndGlyphs">0.6</text>
<line x1="357.40" y1="354.23" x2="358.60" y2="354.23" stroke="#d6d6d6" stroke-width="0.6"/>
<text transform="translate(355.20,355.56) rotate(0.4) scale(0.25)" font-size="12.00" text-anchor="end" stroke="#555" stroke-width="0.88" fill="#555" textLength="20.00" lengthAdjust="spacingAndGlyphs">0.4</text>
<line x1="357.40" y1="363.32" x2="358.60" y2="363.32" stroke="#d6d6d6" stroke-width="0.6"/>
<text transform="translate(355.20,364.65) rotate(0.4) scale(0.25)" font-size="12.00" text-anchor="end" stroke="#555" stroke-width="0.88" fill="#555" textLength="20.00" lengthAdjust="spacingAndGlyphs">0.2</text>
<line x1="357.40" y1="372.40" x2="358.60" y2="372.40" stroke="#d6d6d6" stroke-width="0.6"/>
<text transform="translate(355.20,373.73) rotate(0.4) scale(0.25)" font-size="12.00" text-anchor="end" stroke="#555" stroke-width="0.88" fill="#555">0</text>
<line x1="374.50" y1="321.00" x2="374.50" y2="340.50" stroke="#888" stroke-width="0.65"/>
<line x1="373.10" y1="321.00" x2="375.90" y2="321.00" stroke="#888" stroke-width="0.65"/>
<rect x="368.40" y="340.90" width="12.20" height="31.70" fill="#8a8a8a" stroke="#525252" stroke-width="0.8"/>
<line x1="406.20" y1="325.00" x2="406.20" y2="344.00" stroke="#888" stroke-width="0.65"/>
<line x1="404.80" y1="325.00" x2="407.60" y2="325.00" stroke="#888" stroke-width="0.65"/>
<rect x="400.20" y="344.40" width="12.00" height="28.20" fill="#8a8a8a" stroke="#525252" stroke-width="0.8"/>
<line x1="438.20" y1="357.00" x2="438.20" y2="360.00" stroke="#888" stroke-width="0.65"/>
<line x1="436.80" y1="357.00" x2="439.60" y2="357.00" stroke="#888" stroke-width="0.65"/>
<rect x="431.80" y="360.40" width="12.80" height="12.20" fill="#8a8a8a" stroke="#525252" stroke-width="0.8"/>
<line x1="469.50" y1="366.40" x2="469.50" y2="369.00" stroke="#888" stroke-width="0.65"/>
<line x1="468.10" y1="366.40" x2="470.90" y2="366.40" stroke="#888" stroke-width="0.65"/>
<rect x="463.00" y="369.00" width="13.00" height="3.60" fill="#0a0a0a"/>
<line x1="501.50" y1="362.00" x2="501.50" y2="365.60" stroke="#888" stroke-width="0.65"/>
<line x1="500.10" y1="362.00" x2="502.90" y2="362.00" stroke="#888" stroke-width="0.65"/>
<rect x="495.40" y="366.00" width="12.20" height="6.60" fill="#8a8a8a" stroke="#525252" stroke-width="0.8"/>
<text x="406.00" y="326.30" font-size="7.8" font-weight="bold" text-anchor="middle" fill="#111" letter-spacing="0.25">*</text>
<text x="437.60" y="354.90" font-size="7.8" font-weight="bold" text-anchor="middle" fill="#111" letter-spacing="0.25">*</text>
<text x="470.00" y="365.50" font-size="7.8" font-weight="bold" text-anchor="middle" fill="#111" letter-spacing="0.25">***</text>
<text x="502.00" y="357.50" font-size="7.8" font-weight="bold" text-anchor="middle" fill="#111" letter-spacing="0.25">**</text>
<text transform="translate(374.80,378.85) rotate(0.4) scale(0.25)" font-size="12.80" text-anchor="middle" stroke="#555" stroke-width="0.88" fill="#555" textLength="52.80" lengthAdjust="spacingAndGlyphs">control</text>
<text transform="translate(406.00,378.85) rotate(0.4) scale(0.25)" font-size="12.80" text-anchor="middle" stroke="#555" stroke-width="0.88" fill="#555">3</text>
<text transform="translate(438.00,378.85) rotate(0.4) scale(0.25)" font-size="12.80" text-anchor="middle" stroke="#555" stroke-width="0.88" fill="#555">6</text>
<text transform="translate(469.50,378.85) rotate(0.4) scale(0.25)" font-size="12.80" text-anchor="middle" stroke="#555" stroke-width="0.88" fill="#555">9</text>
<text transform="translate(501.50,378.85) rotate(0.4) scale(0.25)" font-size="12.80" text-anchor="middle" stroke="#555" stroke-width="0.88" fill="#555" textLength="15.20" lengthAdjust="spacingAndGlyphs">12</text>
<text transform="translate(469.50,386.49) rotate(0.4) scale(0.25)" font-size="23.20" text-anchor="start" font-weight="bold" stroke="#111" stroke-width="0.88" fill="#111" textLength="178.80" lengthAdjust="spacingAndGlyphs">Nvb mg/kg/dose</text>
<text transform="translate(342.00,305.70) rotate(0.4) scale(0.25)" font-size="47.25" font-weight="bold" fill="#000">J</text>
<text transform="translate(347.05,378.40) rotate(-90)" font-size="5.7" font-weight="bold" fill="#000" stroke="#000" stroke-width="0.18" textLength="63.00" lengthAdjust="spacingAndGlyphs">Viable CEPs  (in µL PB)</text>
<line x1="120.20" y1="413.90" x2="120.20" y2="459.40" stroke="#d6d6d6" stroke-width="0.7"/>
<line x1="119.20" y1="459.40" x2="253.00" y2="459.40" stroke="#d6d6d6" stroke-width="0.8"/>
<line x1="119.00" y1="414.90" x2="120.20" y2="414.90" stroke="#d6d6d6" stroke-width="0.6"/>
<text transform="translate(117.70,416.23) rotate(0.4) scale(0.25)" font-size="12.00" text-anchor="end" stroke="#606060" stroke-width="0.88" fill="#606060" textLength="22.40" lengthAdjust="spacingAndGlyphs">1.6</text>
<line x1="119.00" y1="420.42" x2="120.20" y2="420.42" stroke="#d6d6d6" stroke-width="0.6"/>
<text transform="translate(117.70,421.75) rotate(0.4) scale(0.25)" font-size="12.00" text-anchor="end" stroke="#606060" stroke-width="0.88" fill="#606060" textLength="22.40" lengthAdjust="spacingAndGlyphs">1.4</text>
<line x1="119.00" y1="425.95" x2="120.20" y2="425.95" stroke="#d6d6d6" stroke-width="0.6"/>
<text transform="translate(117.70,427.28) rotate(0.4) scale(0.25)" font-size="12.00" text-anchor="end" stroke="#606060" stroke-width="0.88" fill="#606060" textLength="22.40" lengthAdjust="spacingAndGlyphs">1.2</text>
<line x1="119.00" y1="431.48" x2="120.20" y2="431.48" stroke="#d6d6d6" stroke-width="0.6"/>
<text transform="translate(117.70,432.81) rotate(0.4) scale(0.25)" font-size="12.00" text-anchor="end" stroke="#606060" stroke-width="0.88" fill="#606060">1</text>
<line x1="119.00" y1="437.00" x2="120.20" y2="437.00" stroke="#d6d6d6" stroke-width="0.6"/>
<text transform="translate(117.70,438.33) rotate(0.4) scale(0.25)" font-size="12.00" text-anchor="end" stroke="#606060" stroke-width="0.88" fill="#606060" textLength="22.40" lengthAdjust="spacingAndGlyphs">0.8</text>
<line x1="119.00" y1="442.52" x2="120.20" y2="442.52" stroke="#d6d6d6" stroke-width="0.6"/>
<text transform="translate(117.70,443.85) rotate(0.4) scale(0.25)" font-size="12.00" text-anchor="end" stroke="#606060" stroke-width="0.88" fill="#606060" textLength="22.40" lengthAdjust="spacingAndGlyphs">0.6</text>
<line x1="119.00" y1="448.05" x2="120.20" y2="448.05" stroke="#d6d6d6" stroke-width="0.6"/>
<text transform="translate(117.70,449.38) rotate(0.4) scale(0.25)" font-size="12.00" text-anchor="end" stroke="#606060" stroke-width="0.88" fill="#606060" textLength="22.40" lengthAdjust="spacingAndGlyphs">0.4</text>
<line x1="119.00" y1="453.58" x2="120.20" y2="453.58" stroke="#d6d6d6" stroke-width="0.6"/>
<text transform="translate(117.70,454.91) rotate(0.4) scale(0.25)" font-size="12.00" text-anchor="end" stroke="#606060" stroke-width="0.88" fill="#606060" textLength="22.40" lengthAdjust="spacingAndGlyphs">0.2</text>
<line x1="119.00" y1="459.10" x2="120.20" y2="459.10" stroke="#d6d6d6" stroke-width="0.6"/>
<text transform="translate(117.70,460.43) rotate(0.4) scale(0.25)" font-size="12.00" text-anchor="end" stroke="#606060" stroke-width="0.88" fill="#606060">0</text>
<line x1="137.00" y1="417.00" x2="137.00" y2="429.30" stroke="#888" stroke-width="0.8" stroke-dasharray="1.6 0.6"/>
<line x1="136.20" y1="417.00" x2="137.80" y2="417.00" stroke="#888" stroke-width="0.8"/>
<rect x="130.40" y="429.70" width="13.20" height="29.70" fill="#8a8a8a" stroke="#525252" stroke-width="0.8"/>
<line x1="170.00" y1="433.00" x2="170.00" y2="444.40" stroke="#888" stroke-width="0.8" stroke-dasharray="1.6 0.6"/>
<line x1="169.20" y1="433.00" x2="170.80" y2="433.00" stroke="#888" stroke-width="0.8"/>
<rect x="163.40" y="444.80" width="13.20" height="14.60" fill="#8a8a8a" stroke="#525252" stroke-width="0.8"/>
<line x1="202.80" y1="447.00" x2="202.80" y2="454.40" stroke="#888" stroke-width="0.8" stroke-dasharray="1.6 0.6"/>
<line x1="202.00" y1="447.00" x2="203.60" y2="447.00" stroke="#888" stroke-width="0.8"/>
<rect x="196.00" y="454.40" width="13.60" height="5.00" fill="#0a0a0a"/>
<line x1="235.40" y1="447.00" x2="235.40" y2="453.60" stroke="#888" stroke-width="0.8" stroke-dasharray="1.6 0.6"/>
<line x1="234.60" y1="447.00" x2="236.20" y2="447.00" stroke="#888" stroke-width="0.8"/>
<rect x="228.80" y="454.00" width="13.20" height="5.40" fill="#8a8a8a" stroke="#525252" stroke-width="0.8"/>
<text x="170.00" y="431.90" font-size="7.8" font-weight="bold" text-anchor="middle" fill="#111" letter-spacing="0.25">*</text>
<text x="203.00" y="448.50" font-size="7.8" font-weight="bold" text-anchor="middle" fill="#111" letter-spacing="0.25">**</text>
<text x="235.60" y="448.50" font-size="7.8" font-weight="bold" text-anchor="middle" fill="#111" letter-spacing="0.25">**</text>
<text transform="translate(137.10,466.20) rotate(0.4) scale(0.25)" font-size="14.40" text-anchor="middle" stroke="#606060" stroke-width="0.88" fill="#606060" textLength="50.40" lengthAdjust="spacingAndGlyphs">Control</text>
<text transform="translate(170.00,466.20) rotate(0.4) scale(0.25)" font-size="14.40" text-anchor="middle" stroke="#606060" stroke-width="0.88" fill="#606060" textLength="15.20" lengthAdjust="spacingAndGlyphs">10</text>
<text transform="translate(202.40,466.20) rotate(0.4) scale(0.25)" font-size="14.40" text-anchor="middle" stroke="#606060" stroke-width="0.88" fill="#606060" textLength="15.20" lengthAdjust="spacingAndGlyphs">20</text>
<text transform="translate(235.40,466.20) rotate(0.4) scale(0.25)" font-size="14.40" text-anchor="middle" stroke="#606060" stroke-width="0.88" fill="#606060" textLength="15.20" lengthAdjust="spacingAndGlyphs">50</text>
<text transform="translate(211.00,474.29) rotate(0.4) scale(0.25)" font-size="23.20" text-anchor="start" font-weight="bold" stroke="#111" stroke-width="0.88" fill="#111" textLength="165.60" lengthAdjust="spacingAndGlyphs">CTX mg/kg/day</text>
<text transform="translate(100.10,402.40) rotate(0.4) scale(0.25)" font-size="46.17" font-weight="bold" fill="#000">K</text>
<text transform="translate(107.15,468.60) rotate(-90)" font-size="5.7" font-weight="bold" fill="#000" stroke="#000" stroke-width="0.18" textLength="62.70" lengthAdjust="spacingAndGlyphs">Viable CEPs  (in µL PB)</text>
<line x1="280.90" y1="415.40" x2="280.90" y2="462.60" stroke="#d6d6d6" stroke-width="0.7"/>
<line x1="279.90" y1="462.60" x2="428.00" y2="462.60" stroke="#d6d6d6" stroke-width="0.8"/>
<line x1="279.70" y1="416.40" x2="280.90" y2="416.40" stroke="#d6d6d6" stroke-width="0.6"/>
<text transform="translate(279.00,417.73) rotate(0.4) scale(0.25)" font-size="12.00" text-anchor="end" stroke="#8c8c8c" stroke-width="0.88" fill="#8c8c8c" textLength="22.80" lengthAdjust="spacingAndGlyphs">1.6</text>
<line x1="279.70" y1="422.15" x2="280.90" y2="422.15" stroke="#d6d6d6" stroke-width="0.6"/>
<text transform="translate(279.00,423.48) rotate(0.4) scale(0.25)" font-size="12.00" text-anchor="end" stroke="#8c8c8c" stroke-width="0.88" fill="#8c8c8c" textLength="22.80" lengthAdjust="spacingAndGlyphs">1.4</text>
<line x1="279.70" y1="427.90" x2="280.90" y2="427.90" stroke="#d6d6d6" stroke-width="0.6"/>
<text transform="translate(279.00,429.23) rotate(0.4) scale(0.25)" font-size="12.00" text-anchor="end" stroke="#8c8c8c" stroke-width="0.88" fill="#8c8c8c" textLength="22.80" lengthAdjust="spacingAndGlyphs">1.2</text>
<line x1="279.70" y1="433.65" x2="280.90" y2="433.65" stroke="#d6d6d6" stroke-width="0.6"/>
<text transform="translate(279.00,434.98) rotate(0.4) scale(0.25)" font-size="12.00" text-anchor="end" stroke="#8c8c8c" stroke-width="0.88" fill="#8c8c8c">1</text>
<line x1="279.70" y1="439.40" x2="280.90" y2="439.40" stroke="#d6d6d6" stroke-width="0.6"/>
<text transform="translate(279.00,440.73) rotate(0.4) scale(0.25)" font-size="12.00" text-anchor="end" stroke="#8c8c8c" stroke-width="0.88" fill="#8c8c8c" textLength="22.80" lengthAdjust="spacingAndGlyphs">0.8</text>
<line x1="279.70" y1="445.15" x2="280.90" y2="445.15" stroke="#d6d6d6" stroke-width="0.6"/>
<text transform="translate(279.00,446.48) rotate(0.4) scale(0.25)" font-size="12.00" text-anchor="end" stroke="#8c8c8c" stroke-width="0.88" fill="#8c8c8c" textLength="22.80" lengthAdjust="spacingAndGlyphs">0.6</text>
<line x1="279.70" y1="450.90" x2="280.90" y2="450.90" stroke="#d6d6d6" stroke-width="0.6"/>
<text transform="translate(279.00,452.23) rotate(0.4) scale(0.25)" font-size="12.00" text-anchor="end" stroke="#8c8c8c" stroke-width="0.88" fill="#8c8c8c" textLength="22.80" lengthAdjust="spacingAndGlyphs">0.4</text>
<line x1="279.70" y1="456.65" x2="280.90" y2="456.65" stroke="#d6d6d6" stroke-width="0.6"/>
<text transform="translate(279.00,457.98) rotate(0.4) scale(0.25)" font-size="12.00" text-anchor="end" stroke="#8c8c8c" stroke-width="0.88" fill="#8c8c8c" textLength="22.80" lengthAdjust="spacingAndGlyphs">0.2</text>
<line x1="279.70" y1="462.40" x2="280.90" y2="462.40" stroke="#d6d6d6" stroke-width="0.6"/>
<text transform="translate(279.00,463.73) rotate(0.4) scale(0.25)" font-size="12.00" text-anchor="end" stroke="#8c8c8c" stroke-width="0.88" fill="#8c8c8c">0</text>
<line x1="297.05" y1="436.30" x2="297.05" y2="440.00" stroke="#777" stroke-width="0.7"/>
<line x1="294.85" y1="436.30" x2="299.25" y2="436.30" stroke="#777" stroke-width="0.7"/>
<rect x="291.60" y="440.40" width="10.90" height="22.20" fill="#8a8a8a" stroke="#525252" stroke-width="0.8"/>
<line x1="325.50" y1="443.00" x2="325.50" y2="450.30" stroke="#777" stroke-width="0.7"/>
<line x1="323.30" y1="443.00" x2="327.70" y2="443.00" stroke="#777" stroke-width="0.7"/>
<rect x="320.20" y="450.70" width="10.60" height="11.90" fill="#8a8a8a" stroke="#525252" stroke-width="0.8"/>
<line x1="354.50" y1="457.60" x2="354.50" y2="459.00" stroke="#777" stroke-width="0.7"/>
<line x1="352.30" y1="457.60" x2="356.70" y2="457.60" stroke="#777" stroke-width="0.7"/>
<rect x="349.00" y="459.00" width="11.00" height="3.60" fill="#0a0a0a"/>
<line x1="383.70" y1="448.00" x2="383.70" y2="453.00" stroke="#777" stroke-width="0.7"/>
<line x1="381.50" y1="448.00" x2="385.90" y2="448.00" stroke="#777" stroke-width="0.7"/>
<rect x="378.40" y="453.40" width="10.60" height="9.20" fill="#8a8a8a" stroke="#525252" stroke-width="0.8"/>
<line x1="412.70" y1="439.00" x2="412.70" y2="450.00" stroke="#777" stroke-width="0.7"/>
<line x1="410.50" y1="439.00" x2="414.90" y2="439.00" stroke="#777" stroke-width="0.7"/>
<rect x="407.40" y="450.40" width="10.60" height="12.20" fill="#8a8a8a" stroke="#525252" stroke-width="0.8"/>
<text x="326.50" y="437.30" font-size="7.8" font-weight="bold" text-anchor="middle" fill="#111" letter-spacing="0.25">*</text>
<text x="354.60" y="453.50" font-size="7.8" font-weight="bold" text-anchor="middle" fill="#111" letter-spacing="0.25">***</text>
<text x="383.00" y="442.50" font-size="7.8" font-weight="bold" text-anchor="middle" fill="#111" letter-spacing="0.25">**</text>
<text x="412.60" y="431.90" font-size="7.8" font-weight="bold" text-anchor="middle" fill="#111" letter-spacing="0.25">*</text>
<text transform="translate(296.90,468.35) rotate(0.4) scale(0.25)" font-size="12.80" text-anchor="middle" stroke="#8c8c8c" stroke-width="0.88" fill="#8c8c8c" textLength="52.80" lengthAdjust="spacingAndGlyphs">Control</text>
<text transform="translate(325.60,468.35) rotate(0.4) scale(0.25)" font-size="12.80" text-anchor="middle" stroke="#8c8c8c" stroke-width="0.88" fill="#8c8c8c" textLength="24.00" lengthAdjust="spacingAndGlyphs">0.5</text>
<text transform="translate(354.60,468.35) rotate(0.4) scale(0.25)" font-size="12.80" text-anchor="middle" stroke="#8c8c8c" stroke-width="0.88" fill="#8c8c8c">1</text>
<text transform="translate(383.00,468.35) rotate(0.4) scale(0.25)" font-size="12.80" text-anchor="middle" stroke="#8c8c8c" stroke-width="0.88" fill="#8c8c8c">2</text>
<text transform="translate(412.60,468.35) rotate(0.4) scale(0.25)" font-size="12.80" text-anchor="middle" stroke="#8c8c8c" stroke-width="0.88" fill="#8c8c8c">3</text>
<text transform="translate(383.40,475.49) rotate(0.4) scale(0.25)" font-size="23.20" text-anchor="start" font-weight="bold" stroke="#111" stroke-width="0.88" fill="#111" textLength="207.20" lengthAdjust="spacingAndGlyphs">CDDP mg/kg/dose</text>
<text transform="translate(265.90,402.60) rotate(0.4) scale(0.25)" font-size="48.32" font-weight="bold" fill="#000">L</text>
<text transform="translate(271.15,468.60) rotate(-90)" font-size="5.7" font-weight="bold" fill="#000" stroke="#000" stroke-width="0.18" textLength="62.70" lengthAdjust="spacingAndGlyphs">Viable CEPs  (in µL PB)</text>
<line x1="112.80" y1="104.50" x2="112.80" y2="173.40" stroke="#d6d6d6" stroke-width="0.7"/>
<line x1="112.00" y1="173.40" x2="260.20" y2="173.40" stroke="#d6d6d6" stroke-width="0.8"/>
<line x1="111.60" y1="105.10" x2="112.80" y2="105.10" stroke="#d6d6d6" stroke-width="0.6"/>
<text transform="translate(110.80,106.25) rotate(0.4) scale(0.25)" font-size="12.80" text-anchor="end" stroke="#5a5a5a" stroke-width="1.20" fill="#5a5a5a" textLength="14.80" lengthAdjust="spacingAndGlyphs">55</text>
<line x1="111.60" y1="113.60" x2="112.80" y2="113.60" stroke="#d6d6d6" stroke-width="0.6"/>
<text transform="translate(110.80,114.75) rotate(0.4) scale(0.25)" font-size="12.80" text-anchor="end" stroke="#5a5a5a" stroke-width="1.20" fill="#5a5a5a" textLength="14.80" lengthAdjust="spacingAndGlyphs">50</text>
<line x1="111.60" y1="122.10" x2="112.80" y2="122.10" stroke="#d6d6d6" stroke-width="0.6"/>
<text transform="translate(110.80,123.25) rotate(0.4) scale(0.25)" font-size="12.80" text-anchor="end" stroke="#5a5a5a" stroke-width="1.20" fill="#5a5a5a" textLength="14.80" lengthAdjust="spacingAndGlyphs">45</text>
<line x1="111.60" y1="130.60" x2="112.80" y2="130.60" stroke="#d6d6d6" stroke-width="0.6"/>
<text transform="translate(110.80,131.75) rotate(0.4) scale(0.25)" font-size="12.80" text-anchor="end" stroke="#5a5a5a" stroke-width="1.20" fill="#5a5a5a" textLength="14.80" lengthAdjust="spacingAndGlyphs">40</text>
<line x1="111.60" y1="139.10" x2="112.80" y2="139.10" stroke="#d6d6d6" stroke-width="0.6"/>
<text transform="translate(110.80,140.25) rotate(0.4) scale(0.25)" font-size="12.80" text-anchor="end" stroke="#5a5a5a" stroke-width="1.20" fill="#5a5a5a" textLength="14.80" lengthAdjust="spacingAndGlyphs">35</text>
<line x1="111.60" y1="147.60" x2="112.80" y2="147.60" stroke="#d6d6d6" stroke-width="0.6"/>
<text transform="translate(110.80,148.75) rotate(0.4) scale(0.25)" font-size="12.80" text-anchor="end" stroke="#5a5a5a" stroke-width="1.20" fill="#5a5a5a" textLength="14.80" lengthAdjust="spacingAndGlyphs">30</text>
<line x1="111.60" y1="156.10" x2="112.80" y2="156.10" stroke="#d6d6d6" stroke-width="0.6"/>
<text transform="translate(110.80,157.25) rotate(0.4) scale(0.25)" font-size="12.80" text-anchor="end" stroke="#5a5a5a" stroke-width="1.20" fill="#5a5a5a" textLength="14.80" lengthAdjust="spacingAndGlyphs">25</text>
<line x1="111.60" y1="164.60" x2="112.80" y2="164.60" stroke="#d6d6d6" stroke-width="0.6"/>
<text transform="translate(110.80,165.75) rotate(0.4) scale(0.25)" font-size="12.80" text-anchor="end" stroke="#5a5a5a" stroke-width="1.20" fill="#5a5a5a" textLength="14.80" lengthAdjust="spacingAndGlyphs">20</text>
<line x1="111.60" y1="173.10" x2="112.80" y2="173.10" stroke="#d6d6d6" stroke-width="0.6"/>
<text transform="translate(110.80,174.25) rotate(0.4) scale(0.25)" font-size="12.80" text-anchor="end" stroke="#5a5a5a" stroke-width="1.20" fill="#5a5a5a" textLength="14.80" lengthAdjust="spacingAndGlyphs">15</text>
<line x1="113.30" y1="173.40" x2="113.30" y2="174.60" stroke="#d6d6d6" stroke-width="0.6"/>
<text transform="translate(113.10,180.35) rotate(0.4) scale(0.25)" font-size="17.20" text-anchor="middle" stroke="#3c3c3c" stroke-width="1.12" fill="#3c3c3c">4</text>
<line x1="134.17" y1="173.40" x2="134.17" y2="174.60" stroke="#d6d6d6" stroke-width="0.6"/>
<text transform="translate(133.65,180.35) rotate(0.4) scale(0.25)" font-size="17.20" text-anchor="middle" stroke="#3c3c3c" stroke-width="1.12" fill="#3c3c3c">5</text>
<line x1="155.04" y1="173.40" x2="155.04" y2="174.60" stroke="#d6d6d6" stroke-width="0.6"/>
<text transform="translate(154.20,180.35) rotate(0.4) scale(0.25)" font-size="17.20" text-anchor="middle" stroke="#3c3c3c" stroke-width="1.12" fill="#3c3c3c">6</text>
<line x1="175.91" y1="173.40" x2="175.91" y2="174.60" stroke="#d6d6d6" stroke-width="0.6"/>
<text transform="translate(174.75,180.35) rotate(0.4) scale(0.25)" font-size="17.20" text-anchor="middle" stroke="#3c3c3c" stroke-width="1.12" fill="#3c3c3c">7</text>
<line x1="196.78" y1="173.40" x2="196.78" y2="174.60" stroke="#d6d6d6" stroke-width="0.6"/>
<text transform="translate(195.30,180.35) rotate(0.4) scale(0.25)" font-size="17.20" text-anchor="middle" stroke="#3c3c3c" stroke-width="1.12" fill="#3c3c3c">8</text>
<line x1="217.65" y1="173.40" x2="217.65" y2="174.60" stroke="#d6d6d6" stroke-width="0.6"/>
<text transform="translate(215.85,180.35) rotate(0.4) scale(0.25)" font-size="17.20" text-anchor="middle" stroke="#3c3c3c" stroke-width="1.12" fill="#3c3c3c">9</text>
<line x1="238.52" y1="173.40" x2="238.52" y2="174.60" stroke="#d6d6d6" stroke-width="0.6"/>
<text transform="translate(236.40,180.35) rotate(0.4) scale(0.25)" font-size="17.20" text-anchor="middle" stroke="#3c3c3c" stroke-width="1.12" fill="#3c3c3c" textLength="19.20" lengthAdjust="spacingAndGlyphs">10</text>
<line x1="259.39" y1="173.40" x2="259.39" y2="174.60" stroke="#d6d6d6" stroke-width="0.6"/>
<text transform="translate(256.95,180.35) rotate(0.4) scale(0.25)" font-size="17.20" text-anchor="middle" stroke="#3c3c3c" stroke-width="1.12" fill="#3c3c3c" textLength="19.20" lengthAdjust="spacingAndGlyphs">11</text>
<text transform="translate(240.60,187.62) rotate(0.4) scale(0.25)" font-size="23.60" text-anchor="start" font-weight="bold" stroke="#111" stroke-width="0.88" fill="#111" textLength="67.20" lengthAdjust="spacingAndGlyphs">weeks</text>
<text transform="translate(97.7,100.2) rotate(0.4) scale(0.25)" font-size="45.2" font-weight="bold" fill="#000">D</text>
<text transform="translate(104.45,151.30) rotate(-90)" font-size="6.8" font-weight="bold" fill="#000" stroke="#000" stroke-width="0.18" textLength="23.60" lengthAdjust="spacingAndGlyphs">% RBC</text>
<line x1="134.17" y1="122.10" x2="134.17" y2="128.10" stroke="#9a9a9a" stroke-width="0.7" stroke-dasharray="1.2 0.6"/>
<line x1="133.07" y1="122.10" x2="135.27" y2="122.10" stroke="#9a9a9a" stroke-width="0.6"/>
<line x1="133.07" y1="128.10" x2="135.27" y2="128.10" stroke="#9a9a9a" stroke-width="0.6"/>
<line x1="155.04" y1="116.80" x2="155.04" y2="127.10" stroke="#9a9a9a" stroke-width="0.7" stroke-dasharray="1.2 0.6"/>
<line x1="153.94" y1="116.80" x2="156.14" y2="116.80" stroke="#9a9a9a" stroke-width="0.6"/>
<line x1="153.94" y1="127.10" x2="156.14" y2="127.10" stroke="#9a9a9a" stroke-width="0.6"/>
<line x1="175.91" y1="121.80" x2="175.91" y2="131.20" stroke="#9a9a9a" stroke-width="0.7" stroke-dasharray="1.2 0.6"/>
<line x1="174.81" y1="121.80" x2="177.01" y2="121.80" stroke="#9a9a9a" stroke-width="0.6"/>
<line x1="174.81" y1="131.20" x2="177.01" y2="131.20" stroke="#9a9a9a" stroke-width="0.6"/>
<line x1="196.78" y1="125.00" x2="196.78" y2="136.90" stroke="#9a9a9a" stroke-width="0.7" stroke-dasharray="1.2 0.6"/>
<line x1="195.68" y1="125.00" x2="197.88" y2="125.00" stroke="#9a9a9a" stroke-width="0.6"/>
<line x1="195.68" y1="136.90" x2="197.88" y2="136.90" stroke="#9a9a9a" stroke-width="0.6"/>
<line x1="217.65" y1="121.90" x2="217.65" y2="134.00" stroke="#9a9a9a" stroke-width="0.7" stroke-dasharray="1.2 0.6"/>
<line x1="216.55" y1="121.90" x2="218.75" y2="121.90" stroke="#9a9a9a" stroke-width="0.6"/>
<line x1="216.55" y1="134.00" x2="218.75" y2="134.00" stroke="#9a9a9a" stroke-width="0.6"/>
<line x1="238.52" y1="138.30" x2="238.52" y2="156.90" stroke="#9a9a9a" stroke-width="0.7" stroke-dasharray="1.2 0.6"/>
<line x1="237.42" y1="138.30" x2="239.62" y2="138.30" stroke="#9a9a9a" stroke-width="0.6"/>
<line x1="237.42" y1="156.90" x2="239.62" y2="156.90" stroke="#9a9a9a" stroke-width="0.6"/>
<line x1="259.39" y1="148.00" x2="259.39" y2="163.50" stroke="#9a9a9a" stroke-width="0.7" stroke-dasharray="1.2 0.6"/>
<line x1="258.29" y1="148.00" x2="260.49" y2="148.00" stroke="#9a9a9a" stroke-width="0.6"/>
<line x1="258.29" y1="163.50" x2="260.49" y2="163.50" stroke="#9a9a9a" stroke-width="0.6"/>
<line x1="134.17" y1="123.20" x2="134.17" y2="131.70" stroke="#9a9a9a" stroke-width="0.7" stroke-dasharray="1.2 0.6"/>
<line x1="133.07" y1="123.20" x2="135.27" y2="123.20" stroke="#9a9a9a" stroke-width="0.6"/>
<line x1="133.07" y1="131.70" x2="135.27" y2="131.70" stroke="#9a9a9a" stroke-width="0.6"/>
<line x1="155.04" y1="122.40" x2="155.04" y2="135.70" stroke="#9a9a9a" stroke-width="0.7" stroke-dasharray="1.2 0.6"/>
<line x1="153.94" y1="122.40" x2="156.14" y2="122.40" stroke="#9a9a9a" stroke-width="0.6"/>
<line x1="153.94" y1="135.70" x2="156.14" y2="135.70" stroke="#9a9a9a" stroke-width="0.6"/>
<line x1="175.91" y1="130.60" x2="175.91" y2="145.70" stroke="#9a9a9a" stroke-width="0.7" stroke-dasharray="1.2 0.6"/>
<line x1="174.81" y1="130.60" x2="177.01" y2="130.60" stroke="#9a9a9a" stroke-width="0.6"/>
<line x1="174.81" y1="145.70" x2="177.01" y2="145.70" stroke="#9a9a9a" stroke-width="0.6"/>
<line x1="196.78" y1="138.40" x2="196.78" y2="156.40" stroke="#9a9a9a" stroke-width="0.7" stroke-dasharray="1.2 0.6"/>
<line x1="195.68" y1="138.40" x2="197.88" y2="138.40" stroke="#9a9a9a" stroke-width="0.6"/>
<line x1="195.68" y1="156.40" x2="197.88" y2="156.40" stroke="#9a9a9a" stroke-width="0.6"/>
<line x1="217.65" y1="142.80" x2="217.65" y2="161.50" stroke="#9a9a9a" stroke-width="0.7" stroke-dasharray="1.2 0.6"/>
<line x1="216.55" y1="142.80" x2="218.75" y2="142.80" stroke="#9a9a9a" stroke-width="0.6"/>
<line x1="216.55" y1="161.50" x2="218.75" y2="161.50" stroke="#9a9a9a" stroke-width="0.6"/>
<line x1="238.52" y1="149.90" x2="238.52" y2="166.00" stroke="#9a9a9a" stroke-width="0.7" stroke-dasharray="1.2 0.6"/>
<line x1="237.42" y1="149.90" x2="239.62" y2="149.90" stroke="#9a9a9a" stroke-width="0.6"/>
<line x1="237.42" y1="166.00" x2="239.62" y2="166.00" stroke="#9a9a9a" stroke-width="0.6"/>
<line x1="259.39" y1="156.20" x2="259.39" y2="171.00" stroke="#9a9a9a" stroke-width="0.7" stroke-dasharray="1.2 0.6"/>
<line x1="258.29" y1="156.20" x2="260.49" y2="156.20" stroke="#9a9a9a" stroke-width="0.6"/>
<line x1="258.29" y1="171.00" x2="260.49" y2="171.00" stroke="#9a9a9a" stroke-width="0.6"/>
<polyline points="113.30,121.70 134.17,131.20 155.04,125.40 175.91,131.60 196.78,136.30 217.65,133.90 238.52,157.40 259.39,162.20" fill="none" stroke="#000" stroke-width="1.2" stroke-linejoin="round"/>
<polyline points="113.30,121.70 134.17,131.20 155.04,125.40 175.91,131.60 196.78,136.30 217.65,133.90 238.52,157.40 259.39,162.20" fill="none" stroke="#fff" stroke-width="0.42" stroke-linejoin="round"/>
<rect x="175.01" y="130.70" width="1.80" height="1.80" fill="#fff" stroke="#000" stroke-width="0.8"/>
<rect x="195.88" y="135.40" width="1.80" height="1.80" fill="#fff" stroke="#000" stroke-width="0.8"/>
<rect x="216.75" y="133.00" width="1.80" height="1.80" fill="#fff" stroke="#000" stroke-width="0.8"/>
<rect x="258.49" y="161.30" width="1.80" height="1.80" fill="#fff" stroke="#000" stroke-width="0.8"/>
<polyline points="113.30,121.70 134.17,125.10 155.04,122.10 175.91,126.20 196.78,130.90 217.65,128.00 238.52,148.90 259.39,155.50" fill="none" stroke="#000" stroke-width="1.0" stroke-linejoin="round"/>
<rect x="111.75" y="119.80" width="3.10" height="3.80" fill="#000"/>
<rect x="132.62" y="123.20" width="3.10" height="3.80" fill="#000"/>
<rect x="153.49" y="120.20" width="3.10" height="3.80" fill="#000"/>
<rect x="174.36" y="124.30" width="3.10" height="3.80" fill="#000"/>
<rect x="195.23" y="129.00" width="3.10" height="3.80" fill="#000"/>
<rect x="216.10" y="126.10" width="3.10" height="3.80" fill="#000"/>
<rect x="236.97" y="147.00" width="3.10" height="3.80" fill="#000"/>
<rect x="257.84" y="153.60" width="3.10" height="3.80" fill="#000"/>
<polyline points="113.30,121.70 134.17,127.20 155.04,128.40 175.91,137.60 196.78,146.40 217.65,150.80 238.52,157.90" fill="none" stroke="#000" stroke-width="1.2" stroke-linejoin="round"/>
<polyline points="113.30,121.70 134.17,129.20 155.04,128.20 175.91,138.20 196.78,146.40" fill="none" stroke="#000" stroke-width="1.1" stroke-linejoin="round"/>
<rect x="-0.707" y="-0.707" width="1.414" height="1.414" fill="#000" transform="translate(113.30,121.70) scale(2.20,2.50) rotate(45)"/>
<rect x="-0.707" y="-0.707" width="1.414" height="1.414" fill="#000" transform="translate(134.17,127.20) scale(2.20,2.50) rotate(45)"/>
<rect x="-0.707" y="-0.707" width="1.414" height="1.414" fill="#000" transform="translate(155.04,128.40) scale(2.20,2.50) rotate(45)"/>
<rect x="-0.707" y="-0.707" width="1.414" height="1.414" fill="#000" transform="translate(175.91,137.60) scale(2.20,2.50) rotate(45)"/>
<rect x="-0.707" y="-0.707" width="1.414" height="1.414" fill="#000" transform="translate(196.78,146.40) scale(2.20,2.50) rotate(45)"/>
<rect x="-0.707" y="-0.707" width="1.414" height="1.414" fill="#000" transform="translate(217.65,150.80) scale(2.20,2.50) rotate(45)"/>
<rect x="-0.707" y="-0.707" width="1.414" height="1.414" fill="#000" transform="translate(238.52,157.90) scale(2.20,2.50) rotate(45)"/>
<rect x="132.67" y="127.40" width="3.00" height="3.60" fill="#000"/>
<rect x="174.41" y="136.40" width="3.00" height="3.60" fill="#000"/>
<line x1="287.90" y1="113.00" x2="287.90" y2="173.40" stroke="#d6d6d6" stroke-width="0.7"/>
<line x1="287.00" y1="173.40" x2="435.50" y2="173.40" stroke="#d6d6d6" stroke-width="0.8"/>
<line x1="286.70" y1="114.50" x2="287.90" y2="114.50" stroke="#d6d6d6" stroke-width="0.6"/>
<text transform="translate(284.9,116.50) rotate(-90)" font-size="4.8" fill="#383838" stroke="#383838" stroke-width="0.3" textLength="4.0" lengthAdjust="spacingAndGlyphs">55</text>
<line x1="286.70" y1="121.80" x2="287.90" y2="121.80" stroke="#d6d6d6" stroke-width="0.6"/>
<text transform="translate(284.9,123.80) rotate(-90)" font-size="4.8" fill="#383838" stroke="#383838" stroke-width="0.3" textLength="4.0" lengthAdjust="spacingAndGlyphs">50</text>
<line x1="286.70" y1="129.10" x2="287.90" y2="129.10" stroke="#d6d6d6" stroke-width="0.6"/>
<text transform="translate(284.9,131.10) rotate(-90)" font-size="4.8" fill="#383838" stroke="#383838" stroke-width="0.3" textLength="4.0" lengthAdjust="spacingAndGlyphs">45</text>
<line x1="286.70" y1="136.40" x2="287.90" y2="136.40" stroke="#d6d6d6" stroke-width="0.6"/>
<text transform="translate(284.9,138.40) rotate(-90)" font-size="4.8" fill="#383838" stroke="#383838" stroke-width="0.3" textLength="4.0" lengthAdjust="spacingAndGlyphs">40</text>
<line x1="286.70" y1="143.70" x2="287.90" y2="143.70" stroke="#d6d6d6" stroke-width="0.6"/>
<text transform="translate(284.9,145.70) rotate(-90)" font-size="4.8" fill="#383838" stroke="#383838" stroke-width="0.3" textLength="4.0" lengthAdjust="spacingAndGlyphs">35</text>
<line x1="286.70" y1="151.00" x2="287.90" y2="151.00" stroke="#d6d6d6" stroke-width="0.6"/>
<text transform="translate(284.9,153.00) rotate(-90)" font-size="4.8" fill="#383838" stroke="#383838" stroke-width="0.3" textLength="4.0" lengthAdjust="spacingAndGlyphs">30</text>
<line x1="286.70" y1="158.30" x2="287.90" y2="158.30" stroke="#d6d6d6" stroke-width="0.6"/>
<text transform="translate(284.9,160.30) rotate(-90)" font-size="4.8" fill="#383838" stroke="#383838" stroke-width="0.3" textLength="4.0" lengthAdjust="spacingAndGlyphs">25</text>
<line x1="286.70" y1="165.60" x2="287.90" y2="165.60" stroke="#d6d6d6" stroke-width="0.6"/>
<text transform="translate(284.9,167.60) rotate(-90)" font-size="4.8" fill="#383838" stroke="#383838" stroke-width="0.3" textLength="4.0" lengthAdjust="spacingAndGlyphs">20</text>
<line x1="286.70" y1="172.90" x2="287.90" y2="172.90" stroke="#d6d6d6" stroke-width="0.6"/>
<text transform="translate(284.9,174.90) rotate(-90)" font-size="4.8" fill="#383838" stroke="#383838" stroke-width="0.3" textLength="4.0" lengthAdjust="spacingAndGlyphs">15</text>
<line x1="287.70" y1="173.40" x2="287.70" y2="174.60" stroke="#d6d6d6" stroke-width="0.6"/>
<text transform="translate(287.70,180.63) rotate(0.4) scale(0.25)" font-size="19.20" text-anchor="middle" stroke="#333" stroke-width="1.20" fill="#333" textLength="7.60" lengthAdjust="spacingAndGlyphs">4</text>
<line x1="301.10" y1="173.40" x2="301.10" y2="174.60" stroke="#d6d6d6" stroke-width="0.6"/>
<text transform="translate(301.10,180.63) rotate(0.4) scale(0.25)" font-size="19.20" text-anchor="middle" stroke="#333" stroke-width="1.20" fill="#333" textLength="7.60" lengthAdjust="spacingAndGlyphs">5</text>
<line x1="314.50" y1="173.40" x2="314.50" y2="174.60" stroke="#d6d6d6" stroke-width="0.6"/>
<text transform="translate(314.50,180.63) rotate(0.4) scale(0.25)" font-size="19.20" text-anchor="middle" stroke="#333" stroke-width="1.20" fill="#333" textLength="7.60" lengthAdjust="spacingAndGlyphs">6</text>
<line x1="327.90" y1="173.40" x2="327.90" y2="174.60" stroke="#d6d6d6" stroke-width="0.6"/>
<text transform="translate(327.90,180.63) rotate(0.4) scale(0.25)" font-size="19.20" text-anchor="middle" stroke="#333" stroke-width="1.20" fill="#333" textLength="7.60" lengthAdjust="spacingAndGlyphs">7</text>
<line x1="341.30" y1="173.40" x2="341.30" y2="174.60" stroke="#d6d6d6" stroke-width="0.6"/>
<text transform="translate(341.30,180.63) rotate(0.4) scale(0.25)" font-size="19.20" text-anchor="middle" stroke="#333" stroke-width="1.20" fill="#333" textLength="7.60" lengthAdjust="spacingAndGlyphs">8</text>
<line x1="354.70" y1="173.40" x2="354.70" y2="174.60" stroke="#d6d6d6" stroke-width="0.6"/>
<text transform="translate(354.70,180.63) rotate(0.4) scale(0.25)" font-size="19.20" text-anchor="middle" stroke="#333" stroke-width="1.20" fill="#333" textLength="7.60" lengthAdjust="spacingAndGlyphs">9</text>
<line x1="368.10" y1="173.40" x2="368.10" y2="174.60" stroke="#d6d6d6" stroke-width="0.6"/>
<text transform="translate(367.70,180.63) rotate(0.4) scale(0.25)" font-size="19.20" text-anchor="middle" stroke="#333" stroke-width="1.20" fill="#333" textLength="14.40" lengthAdjust="spacingAndGlyphs">10</text>
<line x1="381.50" y1="173.40" x2="381.50" y2="174.60" stroke="#d6d6d6" stroke-width="0.6"/>
<text transform="translate(381.10,180.63) rotate(0.4) scale(0.25)" font-size="19.20" text-anchor="middle" stroke="#333" stroke-width="1.20" fill="#333" textLength="14.40" lengthAdjust="spacingAndGlyphs">11</text>
<line x1="394.90" y1="173.40" x2="394.90" y2="174.60" stroke="#d6d6d6" stroke-width="0.6"/>
<text transform="translate(394.50,180.63) rotate(0.4) scale(0.25)" font-size="19.20" text-anchor="middle" stroke="#333" stroke-width="1.20" fill="#333" textLength="14.40" lengthAdjust="spacingAndGlyphs">12</text>
<line x1="408.30" y1="173.40" x2="408.30" y2="174.60" stroke="#d6d6d6" stroke-width="0.6"/>
<text transform="translate(407.90,180.63) rotate(0.4) scale(0.25)" font-size="19.20" text-anchor="middle" stroke="#333" stroke-width="1.20" fill="#333" textLength="14.40" lengthAdjust="spacingAndGlyphs">13</text>
<line x1="421.70" y1="173.40" x2="421.70" y2="174.60" stroke="#d6d6d6" stroke-width="0.6"/>
<text transform="translate(421.30,180.63) rotate(0.4) scale(0.25)" font-size="19.20" text-anchor="middle" stroke="#333" stroke-width="1.20" fill="#333" textLength="14.40" lengthAdjust="spacingAndGlyphs">14</text>
<line x1="435.10" y1="173.40" x2="435.10" y2="174.60" stroke="#d6d6d6" stroke-width="0.6"/>
<text transform="translate(434.70,180.63) rotate(0.4) scale(0.25)" font-size="19.20" text-anchor="middle" stroke="#333" stroke-width="1.20" fill="#333" textLength="14.40" lengthAdjust="spacingAndGlyphs">15</text>
<text transform="translate(420.00,187.52) rotate(0.4) scale(0.25)" font-size="23.60" text-anchor="start" font-weight="bold" stroke="#111" stroke-width="0.88" fill="#111" textLength="68.00" lengthAdjust="spacingAndGlyphs">weeks</text>
<text transform="translate(272.7,100.1) rotate(0.4) scale(0.25)" font-size="44.8" font-weight="bold" fill="#000">E</text>
<text transform="translate(278.95,161.80) rotate(-90)" font-size="6.8" font-weight="bold" fill="#000" stroke="#000" stroke-width="0.18" textLength="22.90" lengthAdjust="spacingAndGlyphs">% RBC</text>
<line x1="301.10" y1="115.00" x2="301.10" y2="118.50" stroke="#8a8a8a" stroke-width="0.7"/>
<line x1="300.00" y1="115.00" x2="302.20" y2="115.00" stroke="#8a8a8a" stroke-width="0.6"/>
<line x1="314.50" y1="115.50" x2="314.50" y2="118.50" stroke="#8a8a8a" stroke-width="0.7"/>
<line x1="313.40" y1="115.50" x2="315.60" y2="115.50" stroke="#8a8a8a" stroke-width="0.6"/>
<line x1="327.90" y1="113.20" x2="327.90" y2="117.80" stroke="#8a8a8a" stroke-width="0.7"/>
<line x1="326.80" y1="113.20" x2="329.00" y2="113.20" stroke="#8a8a8a" stroke-width="0.6"/>
<line x1="341.30" y1="117.00" x2="341.30" y2="122.30" stroke="#8a8a8a" stroke-width="0.7"/>
<line x1="340.20" y1="117.00" x2="342.40" y2="117.00" stroke="#8a8a8a" stroke-width="0.6"/>
<line x1="354.70" y1="117.60" x2="354.70" y2="124.00" stroke="#8a8a8a" stroke-width="0.7"/>
<line x1="353.60" y1="117.60" x2="355.80" y2="117.60" stroke="#8a8a8a" stroke-width="0.6"/>
<line x1="368.10" y1="119.00" x2="368.10" y2="124.00" stroke="#8a8a8a" stroke-width="0.7"/>
<line x1="367.00" y1="119.00" x2="369.20" y2="119.00" stroke="#8a8a8a" stroke-width="0.6"/>
<line x1="381.50" y1="116.50" x2="381.50" y2="121.00" stroke="#8a8a8a" stroke-width="0.7"/>
<line x1="380.40" y1="116.50" x2="382.60" y2="116.50" stroke="#8a8a8a" stroke-width="0.6"/>
<line x1="394.90" y1="114.40" x2="394.90" y2="119.80" stroke="#8a8a8a" stroke-width="0.7"/>
<line x1="393.80" y1="114.40" x2="396.00" y2="114.40" stroke="#8a8a8a" stroke-width="0.6"/>
<line x1="435.10" y1="116.30" x2="435.10" y2="124.50" stroke="#8a8a8a" stroke-width="0.7"/>
<line x1="434.00" y1="116.30" x2="436.20" y2="116.30" stroke="#8a8a8a" stroke-width="0.6"/>
<line x1="301.10" y1="123.50" x2="301.10" y2="128.00" stroke="#8a8a8a" stroke-width="0.7"/>
<line x1="300.00" y1="128.00" x2="302.20" y2="128.00" stroke="#8a8a8a" stroke-width="0.6"/>
<line x1="314.50" y1="128.60" x2="314.50" y2="134.60" stroke="#8a8a8a" stroke-width="0.7"/>
<line x1="313.40" y1="134.60" x2="315.60" y2="134.60" stroke="#8a8a8a" stroke-width="0.6"/>
<line x1="327.90" y1="134.50" x2="327.90" y2="139.00" stroke="#8a8a8a" stroke-width="0.7"/>
<line x1="326.80" y1="139.00" x2="329.00" y2="139.00" stroke="#8a8a8a" stroke-width="0.6"/>
<line x1="341.30" y1="137.00" x2="341.30" y2="142.00" stroke="#8a8a8a" stroke-width="0.7"/>
<line x1="340.20" y1="142.00" x2="342.40" y2="142.00" stroke="#8a8a8a" stroke-width="0.6"/>
<line x1="368.10" y1="145.90" x2="368.10" y2="156.00" stroke="#8a8a8a" stroke-width="0.7"/>
<line x1="367.00" y1="156.00" x2="369.20" y2="156.00" stroke="#8a8a8a" stroke-width="0.6"/>
<line x1="381.50" y1="157.80" x2="381.50" y2="163.10" stroke="#8a8a8a" stroke-width="0.7"/>
<line x1="380.40" y1="163.10" x2="382.60" y2="163.10" stroke="#8a8a8a" stroke-width="0.6"/>
<line x1="381.50" y1="132.70" x2="381.50" y2="136.40" stroke="#8a8a8a" stroke-width="0.7"/>
<line x1="380.40" y1="136.40" x2="382.60" y2="136.40" stroke="#8a8a8a" stroke-width="0.6"/>
<line x1="394.90" y1="136.40" x2="394.90" y2="147.60" stroke="#8a8a8a" stroke-width="0.7"/>
<line x1="393.80" y1="147.60" x2="396.00" y2="147.60" stroke="#8a8a8a" stroke-width="0.6"/>
<line x1="435.10" y1="150.90" x2="435.10" y2="155.00" stroke="#8a8a8a" stroke-width="0.7"/>
<line x1="434.00" y1="155.00" x2="436.20" y2="155.00" stroke="#8a8a8a" stroke-width="0.6"/>
<line x1="327.90" y1="131.50" x2="327.90" y2="139.00" stroke="#8a8a8a" stroke-width="0.7"/>
<line x1="326.80" y1="139.00" x2="329.00" y2="139.00" stroke="#8a8a8a" stroke-width="0.6"/>
<line x1="341.30" y1="131.00" x2="341.30" y2="142.00" stroke="#8a8a8a" stroke-width="0.7"/>
<line x1="340.20" y1="142.00" x2="342.40" y2="142.00" stroke="#8a8a8a" stroke-width="0.6"/>
<polyline points="287.70,126.40 301.10,120.00 314.50,122.50 327.90,127.00 341.30,126.70 354.70,132.00 368.10,128.00 381.50,129.50" fill="none" stroke="#000" stroke-width="0.7" stroke-linejoin="round"/>
<polyline points="287.70,126.40 301.10,118.00 314.50,120.00 327.90,131.50 341.30,131.00 354.70,127.50 368.10,129.50" fill="none" stroke="#000" stroke-width="0.7" stroke-linejoin="round"/>
<polyline points="287.70,126.40 301.10,123.50 314.50,128.60 327.90,134.50 341.30,137.00 354.70,140.80 368.10,145.90 381.50,157.80" fill="none" stroke="#000" stroke-width="0.8" stroke-linejoin="round"/>
<polyline points="287.70,126.40 301.10,119.00 314.50,121.50 327.90,127.00 341.30,126.70 354.70,131.60 368.10,129.00 381.50,132.70 394.90,136.40 408.30,139.30 421.70,144.00 435.10,150.90" fill="none" stroke="#000" stroke-width="0.8" stroke-linejoin="round"/>
<polyline points="287.70,126.40 301.10,118.50 314.50,118.50 327.90,117.80 341.30,122.30 354.70,124.00 368.10,124.00 381.50,121.00 394.90,119.80 408.30,120.70 421.70,125.50 435.10,124.50" fill="none" stroke="#000" stroke-width="0.9" stroke-linejoin="round"/>
<rect x="286.20" y="124.40" width="3.00" height="4.00" fill="#fff" stroke="#000" stroke-width="0.8"/>
<rect x="299.60" y="118.00" width="3.00" height="4.00" fill="#fff" stroke="#000" stroke-width="0.8"/>
<rect x="313.00" y="120.50" width="3.00" height="4.00" fill="#fff" stroke="#000" stroke-width="0.8"/>
<rect x="326.40" y="125.00" width="3.00" height="4.00" fill="#fff" stroke="#000" stroke-width="0.8"/>
<rect x="339.80" y="124.70" width="3.00" height="4.00" fill="#fff" stroke="#000" stroke-width="0.8"/>
<rect x="353.20" y="130.00" width="3.00" height="4.00" fill="#fff" stroke="#000" stroke-width="0.8"/>
<rect x="366.60" y="126.00" width="3.00" height="4.00" fill="#fff" stroke="#000" stroke-width="0.8"/>
<rect x="380.00" y="127.50" width="3.00" height="4.00" fill="#fff" stroke="#000" stroke-width="0.8"/>
<ellipse cx="287.70" cy="126.40" rx="1.50" ry="2.10" fill="#fff" stroke="#000" stroke-width="0.8"/>
<ellipse cx="301.10" cy="119.00" rx="1.50" ry="2.10" fill="#fff" stroke="#000" stroke-width="0.8"/>
<ellipse cx="314.50" cy="121.50" rx="1.50" ry="2.10" fill="#fff" stroke="#000" stroke-width="0.8"/>
<ellipse cx="327.90" cy="127.00" rx="1.50" ry="2.10" fill="#fff" stroke="#000" stroke-width="0.8"/>
<ellipse cx="341.30" cy="126.70" rx="1.50" ry="2.10" fill="#fff" stroke="#000" stroke-width="0.8"/>
<ellipse cx="354.70" cy="131.60" rx="1.50" ry="2.10" fill="#fff" stroke="#000" stroke-width="0.8"/>
<ellipse cx="368.10" cy="129.00" rx="1.50" ry="2.10" fill="#fff" stroke="#000" stroke-width="0.8"/>
<ellipse cx="381.50" cy="132.70" rx="1.80" ry="2.70" fill="#fff" stroke="#000" stroke-width="0.8"/>
<ellipse cx="394.90" cy="136.40" rx="1.80" ry="2.70" fill="#fff" stroke="#000" stroke-width="0.8"/>
<ellipse cx="408.30" cy="139.30" rx="1.80" ry="2.70" fill="#fff" stroke="#000" stroke-width="0.8"/>
<ellipse cx="421.70" cy="144.00" rx="1.80" ry="2.70" fill="#fff" stroke="#000" stroke-width="0.8"/>
<ellipse cx="435.10" cy="150.90" rx="1.80" ry="2.70" fill="#fff" stroke="#000" stroke-width="0.8"/>
<ellipse cx="287.70" cy="126.40" rx="1.70" ry="2.50" fill="#000"/>
<ellipse cx="301.10" cy="118.00" rx="1.70" ry="2.50" fill="#000"/>
<ellipse cx="314.50" cy="120.00" rx="1.70" ry="2.50" fill="#000"/>
<ellipse cx="327.90" cy="131.50" rx="1.70" ry="2.50" fill="#000"/>
<ellipse cx="341.30" cy="131.00" rx="1.70" ry="2.50" fill="#000"/>
<ellipse cx="354.70" cy="127.50" rx="1.70" ry="2.50" fill="#000"/>
<ellipse cx="368.10" cy="129.50" rx="1.70" ry="2.50" fill="#000"/>
<ellipse cx="287.70" cy="126.40" rx="1.80" ry="2.60" fill="#000"/>
<ellipse cx="301.10" cy="123.50" rx="1.80" ry="2.60" fill="#000"/>
<ellipse cx="314.50" cy="128.60" rx="1.80" ry="2.60" fill="#000"/>
<ellipse cx="327.90" cy="134.50" rx="1.80" ry="2.60" fill="#000"/>
<ellipse cx="341.30" cy="137.00" rx="1.80" ry="2.60" fill="#000"/>
<ellipse cx="354.70" cy="140.80" rx="1.80" ry="2.60" fill="#000"/>
<ellipse cx="368.10" cy="145.90" rx="1.80" ry="2.60" fill="#000"/>
<ellipse cx="381.50" cy="157.80" rx="1.80" ry="2.60" fill="#000"/>
<rect x="286.00" y="123.60" width="3.40" height="5.60" fill="#000"/>
<rect x="299.40" y="115.70" width="3.40" height="5.60" fill="#000"/>
<rect x="312.80" y="115.70" width="3.40" height="5.60" fill="#000"/>
<rect x="326.20" y="115.00" width="3.40" height="5.60" fill="#000"/>
<rect x="339.60" y="119.50" width="3.40" height="5.60" fill="#000"/>
<rect x="353.00" y="121.20" width="3.40" height="5.60" fill="#000"/>
<rect x="366.40" y="121.20" width="3.40" height="5.60" fill="#000"/>
<rect x="379.80" y="118.20" width="3.40" height="5.60" fill="#000"/>
<rect x="393.20" y="117.00" width="3.40" height="5.60" fill="#000"/>
<rect x="406.60" y="117.90" width="3.40" height="5.60" fill="#000"/>
<rect x="420.00" y="122.70" width="3.40" height="5.60" fill="#000"/>
<rect x="433.40" y="121.70" width="3.40" height="5.60" fill="#000"/>
</svg>
</body>
</html>
